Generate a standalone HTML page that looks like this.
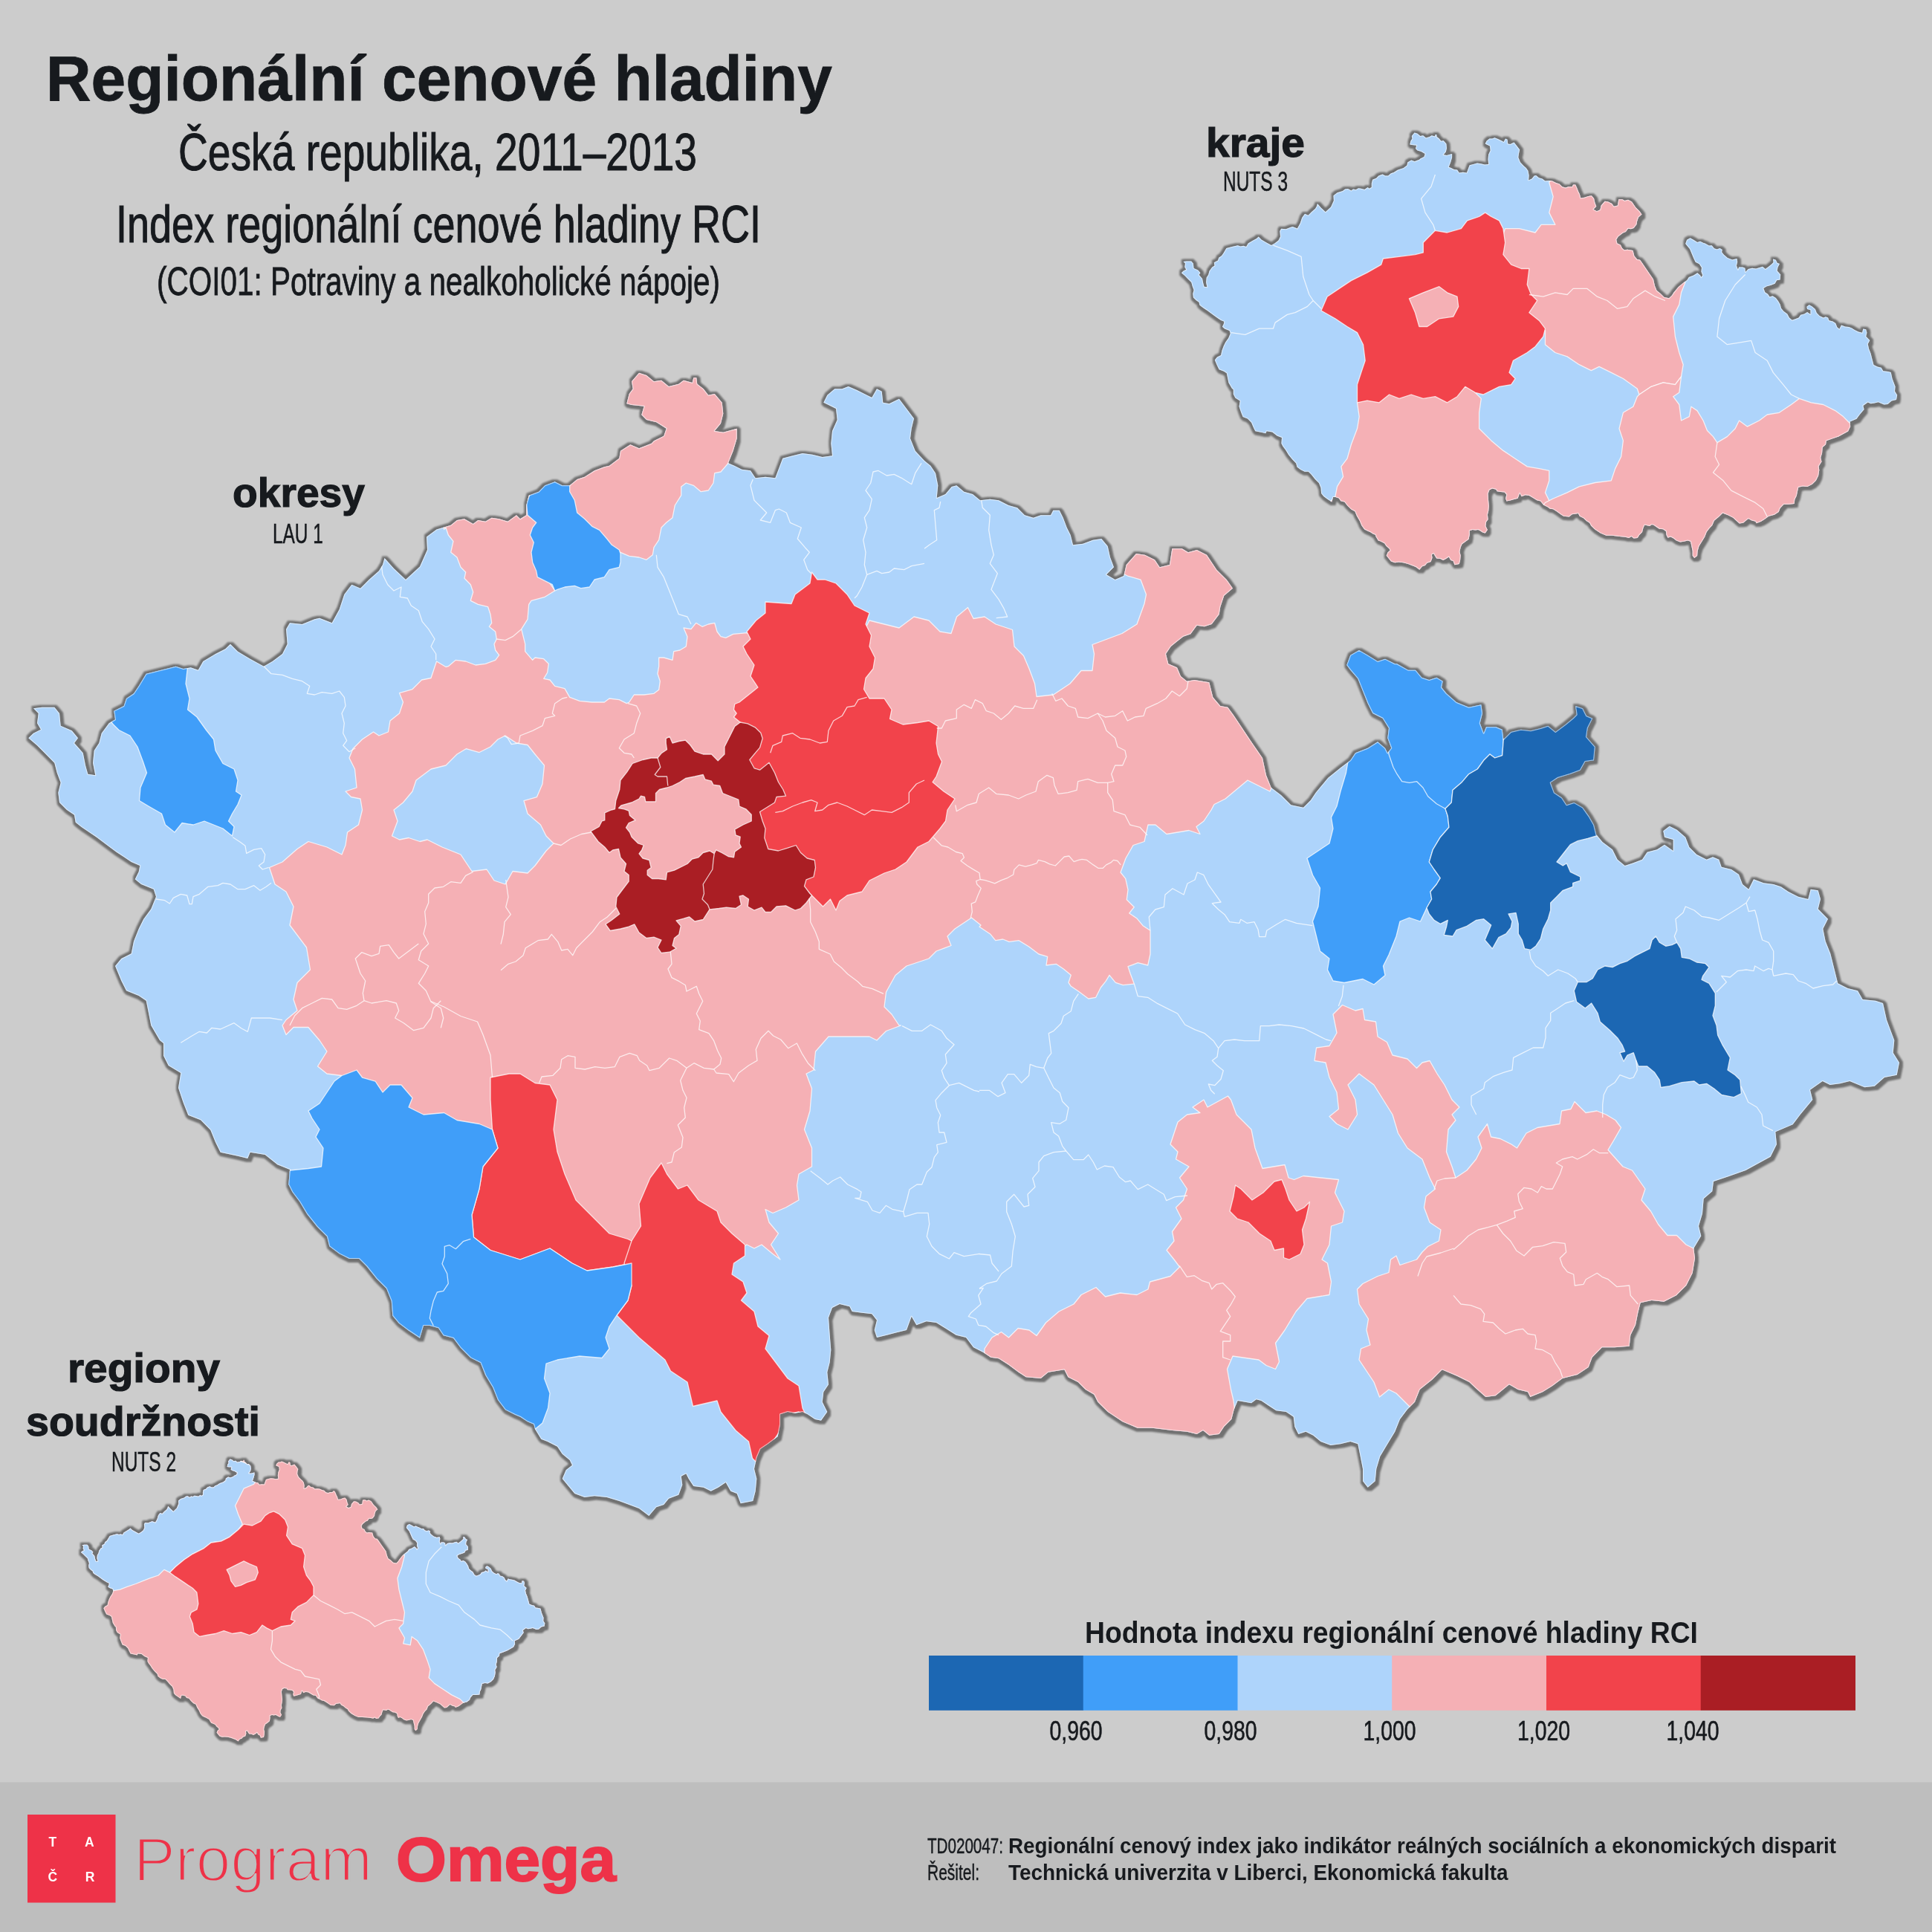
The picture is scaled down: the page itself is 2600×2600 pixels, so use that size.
<!DOCTYPE html>
<html><head><meta charset="utf-8"><style>
html,body{margin:0;padding:0}body{width:2600px;height:2600px;background:#cccccc;position:relative;overflow:hidden;font-family:"Liberation Sans",sans-serif}
</style></head><body><svg width="2600" height="2600" viewBox="0 0 2600 2600" style="position:absolute;left:0;top:0" font-family="Liberation Sans, sans-serif"><g opacity="0.999"><rect x="0" y="2398.5" width="2600" height="201.5" fill="#bebebe"/><rect x="37" y="2442" width="118.5" height="118.5" fill="#ee3248"/><text x="70.8" y="2485.0" font-size="17.5" font-weight="bold" fill="#fff" text-anchor="middle">T</text><text x="120.4" y="2485.0" font-size="17.5" font-weight="bold" fill="#fff" text-anchor="middle">A</text><text x="70.8" y="2532.0" font-size="17.5" font-weight="bold" fill="#fff" text-anchor="middle">Č</text><text x="121" y="2532.0" font-size="17.5" font-weight="bold" fill="#fff" text-anchor="middle">R</text><text x="180" y="2531.4" font-size="84" font-weight="normal" fill="#ee3248" textLength="321" lengthAdjust="spacingAndGlyphs" stroke="#bebebe" stroke-width="2.8">Program</text><text x="533" y="2531.4" font-size="84" font-weight="bold" fill="#ee3248" textLength="296" lengthAdjust="spacingAndGlyphs" stroke="#ee3248" stroke-width="2">Omega</text></g>
<defs>
<path id="cz" d="M215,1400 203.3,1380 200,1363.3 196.7,1346.7 186.7,1340 170,1333.3 163.3,1320 155,1300 163.3,1290 176.7,1283.3 180,1266.7 186.7,1250 193.3,1236.7 203.3,1223.3 210,1206.7 206.7,1196.7 190,1190 181.7,1183.3 186.7,1173.3 188.3,1165 176.7,1160 166.7,1153.3 156.7,1146.7 143.3,1136.7 130,1126.7 120,1120 110,1113.3 101.7,1106.7 100,1096.7 90,1090 80,1080 78.3,1066.7 81.7,1053.3 76.7,1040 73.3,1026.7 60,1013.3 50,1003.3 38.3,993.3 45,986.7 55,981.7 50,973.3 51.7,960 45,953.3 56.7,951.7 73.3,951.7 80,960 81.7,976.7 96.7,983.3 105,993.3 100,1000 111.7,1013.3 115,1030 118.3,1041.7 128.3,1043.3 125,1026.7 126.7,1010 133.3,1000 136.7,986.7 146.7,973.3 155,968.3 153.3,956.7 166.7,950 170,940 180,933.3 186.7,923.3 196.7,906.7 216.7,901.7 236.7,896.7 246.7,900 256.7,898.3 266.7,901.7 273.3,890 290,880 303.3,873.3 310,866.7 320,876.7 336.7,886.7 355,896.7 366.7,890 380,880 386.7,866.7 385,846.7 390,838.3 406.7,840 423.3,833.3 430,831.7 446.7,838.3 456.7,820 463.3,800 473.3,786.7 485,791.7 496.7,780 510,768.3 515,760 517.5,751 530,765 546,780 565,762.5 575,740 574,722.5 587.5,712.5 606.7,706.7 615,700 625,698.3 636.7,705 643.3,700 653.3,701.7 661.7,696.7 671.7,698.3 683.3,701.7 695,693.3 700,698.3 708.3,693.3 708.3,680 711.7,666.7 725,661.7 733.3,653.3 746.7,648.3 756.7,653.3 766.7,653.3 776.7,645 786.7,641.7 800,633.3 813.3,628.3 820,626.7 833.3,616.7 835,606.7 848.3,598.3 860,603.3 876.7,596.7 880,593.3 893.3,586.7 896.7,576.7 883.3,568.3 870,565 863.3,558.3 866.7,546.7 850,545 843.3,543.3 846.7,530 851.7,523.3 850,513.3 860,501.7 870,505 880,513.3 890,511.7 900,520 913.3,516.7 920,511.7 931.7,515 933.3,508.3 937.3,508.3 938.3,516.7 946.7,523.3 953.3,531.7 961.7,530 971.7,541.7 973.3,556.7 970,570 961.7,580 973.3,581.7 991.7,576.7 991.7,590 986.7,606.7 980,623.3 988.3,626.7 998.3,631.7 1010,633.3 1016.7,643.3 1030,641.7 1043.3,643.3 1048.3,630 1053.3,616.7 1066.7,613.3 1080,610 1093.3,611.7 1106.7,615 1120,613.3 1118.3,596.7 1120,580 1126.7,565 1125,550 1115,545 1108.3,541.7 1113.3,531.7 1123.3,523.3 1133.3,523.3 1141.7,520 1153.3,525 1166.7,531.7 1173.3,535 1180,523.3 1186.7,526.7 1188.3,541.7 1196.7,543.3 1210,536.7 1220,550 1230,563.3 1226.7,576.7 1225,590 1231.7,606.7 1244,620 1252.3,626.7 1259,636.7 1262.3,653.3 1260.7,670 1272.3,665 1280.7,655 1287.3,653.3 1297.3,661.7 1309,665 1319,673.3 1332.3,671.7 1344,673.3 1357.3,680 1369,683.3 1379,693.3 1390.7,696.7 1400.7,693.3 1414,693.3 1417.3,686.7 1425.7,686.7 1430.7,696.7 1435.7,710 1440.7,720 1444,733.3 1457.3,731.7 1470.7,726.7 1482.3,725 1490.7,735 1494,750 1499,763.3 1489,773.3 1500.7,780 1512.3,775 1515.7,760 1529,745 1540.7,746.7 1554,753.3 1560.7,763.3 1574,760 1577.3,738.3 1590.7,738.3 1599,743.3 1610.7,740 1624,746.7 1637.3,766.7 1650.7,780 1659,791.7 1647.3,801.7 1642.3,816.7 1640.7,826.7 1630.7,840 1620.7,843.3 1610.7,841.7 1602.3,853.3 1592.3,856.7 1584,863.3 1575.7,870 1569,880 1572.3,893.3 1584,898.3 1589,910 1597.3,916.7 1607.3,915 1627.3,918.3 1632.3,938.3 1642.3,950 1652.3,951.7 1660.7,963.3 1674,983.3 1684,998.3 1699,1020 1704,1043.3 1710.7,1060 1724,1070 1737.3,1083.3 1754,1086.7 1764,1076.7 1770.7,1066.7 1787.3,1046.7 1804,1033.3 1817.3,1023.3 1824,1013.3 1840.7,1006.7 1854,998.3 1864,1006.7 1867.3,1013.3 1872.3,1006.7 1867.3,993.3 1869,980 1860.7,966.7 1847.3,960 1840.7,946.7 1834,930 1827.3,913.3 1817.3,901.7 1812.3,895 1817.3,881.7 1829,875 1840.7,881.7 1854,890 1864,886.7 1877.3,893.3 1880,893.3 1895,901.7 1905,901.7 1913.3,911.7 1923.3,915 1933.3,911.7 1941.7,916.7 1940,925 1946.7,933.3 1960,945 1976.7,951.7 1993.3,948.3 1995,960 1991.7,973.3 1996.7,986.7 2000,978.3 2013.3,978.3 2021.7,981.7 2023.3,995 2033.3,985 2046.7,981.7 2060,983.3 2073.3,980 2083.3,976.7 2093.3,985 2106.7,975 2116.7,966.7 2121.7,961.7 2120,950 2130,953.3 2135,963.3 2143.3,966.7 2136.7,980 2135,991.7 2146.7,1005 2145,1023.3 2133.3,1025 2126.7,1036.7 2113.3,1041.7 2096.7,1046.7 2086.7,1053.3 2091.7,1066.7 2101.7,1073.3 2108.3,1083.3 2118.3,1080 2130,1086.7 2138.3,1098.3 2145,1110 2148.3,1123.3 2156.7,1133.3 2170,1143.3 2176.7,1156.7 2186.7,1165 2196.7,1161.7 2210,1156.7 2216.7,1146.7 2230,1143.3 2240,1136.7 2251.7,1145 2251.7,1130 2240,1126.7 2238.3,1118.3 2246.7,1111.7 2256.7,1116.7 2268.3,1126.7 2273.3,1140 2283.3,1150 2296.7,1156.7 2305,1153.3 2313.3,1156.7 2316.7,1166.7 2330,1170 2340,1176.7 2345,1190 2353.3,1196.7 2360,1183.3 2373.3,1188.3 2386.7,1190 2396.7,1193.3 2406.7,1200 2420,1206.7 2433.3,1210 2436.7,1196.7 2446.7,1198.3 2450,1210 2446.7,1223.3 2460,1236.7 2453.3,1250 2456.7,1266.7 2463.3,1283.3 2468.3,1303.3 2473.3,1323.3 2486.7,1330 2500,1333.3 2506.7,1345 2524,1346.7 2534,1350 2539,1372.5 2549.3,1400 2547.7,1416.7 2556,1430 2552.7,1446.7 2536,1450 2522.7,1461.7 2509.3,1463.3 2489.3,1455 2476,1458.3 2462.7,1460 2452.7,1455 2436,1466.7 2439.3,1480 2422.7,1500 2412.7,1513.3 2389.3,1523.3 2391,1540 2382.7,1556.7 2349.3,1575 2326,1583.3 2306,1590 2304.3,1603.3 2292.7,1613.3 2291,1633.3 2286,1650 2289.3,1663.3 2279.3,1680 2281,1693.3 2277.7,1713.3 2269.3,1730 2256,1743.3 2239.3,1751.7 2222.7,1750 2207.7,1753.3 2204.3,1766.7 2201,1783.3 2194.3,1796.7 2192.7,1811.7 2172.7,1813.3 2156,1813.3 2142.7,1826.7 2137.7,1840 2122.7,1850 2102.7,1855 2089.3,1865 2076,1873.3 2059.3,1880 2056,1873.3 2042.7,1870 2031,1863.3 2012.7,1878.3 1999.3,1880 1986,1868.3 1977.3,1860 1960.7,1851.7 1940.7,1843.3 1927.3,1856.7 1910.7,1870 1904,1886.7 1894,1896.7 1884,1910 1877.3,1926.7 1867.3,1943.3 1857.3,1960 1852.3,1976.7 1850.7,1993.3 1840.7,2001.7 1834,1993.3 1834,1976.7 1830.7,1960 1827.3,1943.3 1817.3,1940 1804,1943.3 1790.7,1945 1777.3,1940 1767.3,1931.7 1757.3,1926.7 1747.3,1930 1742.3,1920 1740.7,1906.7 1730.7,1900 1717.3,1898.3 1707.3,1891.7 1697.3,1885 1690.7,1883.3 1684,1888.3 1665.7,1885 1660.7,1896.7 1657.3,1910 1647.3,1920 1640.7,1930 1627.3,1931.7 1619,1925 1610.7,1930 1597.3,1926.7 1577.3,1925 1550.7,1921.7 1530.7,1921.7 1510.7,1913.3 1490.7,1900 1477.3,1886.7 1472.3,1876.7 1460.7,1870 1450.7,1860 1437.3,1853.3 1432.3,1843.3 1410.7,1846.7 1400.7,1855 1380.7,1853.3 1370.7,1846.7 1357.3,1836.7 1344,1828.3 1333.3,1826.7 1323.3,1820 1310,1813.3 1300,1800 1286.7,1796.7 1273.3,1788.3 1260,1780 1246.7,1778.3 1233.3,1783.3 1226.7,1771.7 1220,1790 1206.7,1793.3 1193.3,1796.7 1180,1800 1176.7,1790 1180,1776.7 1173.3,1768.3 1160,1766.7 1146.7,1765 1143.3,1758.3 1130,1755 1120,1760 1115,1773.3 1116.7,1796.7 1118.3,1816.7 1116.7,1833.3 1113.3,1846.7 1115,1863.3 1108.3,1873.3 1106.7,1886.7 1113.3,1900 1105,1911.7 1096.7,1910 1086.7,1903.3 1080,1900 1070,1901.7 1060,1900 1050,1903.3 1050,1916.7 1046.7,1933.3 1033.3,1943.3 1023.3,1950 1018.3,1961.7 1015,1976.7 1018.3,1990 1016.7,2006.7 1013.3,2020 996.7,2023.3 991.7,2010 983.3,2006.7 976.7,1995 966.7,2001.7 956.7,2006.7 946.7,2001.7 933.3,2000 926.7,1990 923.3,1983.3 916.7,1986.7 918.3,1998.3 913.3,2011.7 900,2016.7 893.3,2025 883.3,2028.3 873.3,2040 860,2030 846.7,2025 833.3,2020 816.7,2015 800,2013.3 786.7,2015 773.3,2010 765,2000 756.7,1990 761.7,1978.3 770,1971.7 766.7,1965 756.7,1956.7 750,1946.7 736.7,1940 728.3,1936.7 720,1923.3 718.3,1916.7 710,1913.3 700,1906.7 693.3,1904 680,1897.3 670,1884 663.3,1867.3 653.3,1850.7 646.7,1834 633.3,1827.3 620,1814 610,1800.7 596.7,1797.3 590,1787.3 578.3,1784 570,1784 565,1800.7 550,1790.7 536.7,1780.7 528.3,1770.7 526.7,1750.7 520,1734 506.7,1720.7 493.3,1704 483.3,1694 470,1694 456.7,1687.3 443.3,1677.3 440,1664 426.7,1650.7 413.3,1634 403.3,1617.3 393.3,1604 388.3,1594 390,1574 373.3,1567.3 356.7,1554 336.7,1550.7 333.3,1559 320,1555.7 296.7,1550.7 290,1537.3 283.3,1520.7 270,1507.3 253.3,1500.7 246.7,1484 240,1464 243.3,1444 226.7,1434 220,1420.7 220,1404Z"/>
<clipPath id="czc"><use href="#cz"/></clipPath>
<filter id="sh" x="-5%" y="-5%" width="110%" height="110%" color-interpolation-filters="sRGB"><feMorphology in="SourceAlpha" operator="dilate" radius="2.5" result="d"/><feOffset in="d" dx="1.6" dy="1.6" result="d2"/><feMerge result="u"><feMergeNode in="d"/><feMergeNode in="d2"/></feMerge><feGaussianBlur in="u" stdDeviation="1.2" result="g"/><feComponentTransfer in="g" result="g2"><feFuncA type="linear" slope="0.45"/></feComponentTransfer><feMerge><feMergeNode in="g2"/><feMergeNode in="SourceGraphic"/></feMerge></filter>
</defs>
<use href="#cz" fill="#aed4fb" filter="url(#sh)"/>
<g clip-path="url(#czc)">
<path d="M597.5,712.5 595,685 720,640 750,700 740,785 746.7,795 733.3,803.3 715,808.3 711.7,813.3 710,833.3 701.7,846.7 706.7,866.7 706.7,876.7 716.7,888.3 720,885 731.7,886.7 738.3,893.3 736.7,905 731.7,913.3 740,915 746.7,923.3 760,926.7 766.7,938.3 780,943.3 796.7,945 813.3,945 820,940 833.3,941.7 843.3,946.7 846.7,945 853.3,935 866.7,935 880,933.3 886.7,928.3 888.3,916.7 885,906.7 886.7,896.7 886.7,885 893.3,885 905,888.3 906.7,876.7 915,875 923.3,870 925,856.7 920,845 930,846.7 936.7,838.3 945,843.3 953.3,840 961.7,838.3 965,850 970,856.7 976.7,858.3 986.7,853.3 1005,851.7 1020,855 1165,845 1170,835 1190,840 1210,845 1230,830 1250,835 1265,850 1280,852.5 1287.5,830 1302.5,817.5 1310,832.5 1325,830 1340,840 1362.5,847.5 1365,870 1377.5,882.5 1385,900 1392.5,920 1395,937.5 1417.5,935 1440,920 1455,902.5 1470,902.5 1472.5,880 1470,867.5 1490,860 1510,852.5 1530,840 1540,812.5 1542.5,800 1535,780 1517.5,775 1512.5,772.5 1510,740 1570,720 1680,730 1690,790 1620,880 1670,935 1720,1005 1720,1040 1709,1065 1679,1050 1664,1062.5 1649,1075 1634,1082.5 1630,1090 1620,1105 1610,1112.5 1615,1122.5 1600,1117.5 1585,1120 1570,1122.5 1555,1110 1545,1110 1540,1132.5 1525,1137.5 1515,1155 1508,1174 1514.7,1182.3 1518,1197.3 1516.3,1210.7 1526.3,1220.7 1519.7,1229 1529.7,1235.7 1538,1245.7 1548,1252.3 1548,1270.7 1548,1284 1544.7,1299 1531.3,1295.7 1518,1300.7 1521.3,1310.7 1526.3,1324 1511.3,1325.7 1501.3,1322.3 1493,1312.3 1488,1320.7 1481.3,1329 1474.7,1342.3 1464.7,1344 1451.3,1334 1441.3,1327.3 1438,1322.3 1441.3,1312.3 1431.3,1304 1421.3,1297.3 1408,1299 1409.7,1287.3 1398,1284 1384.7,1274 1371.3,1265.7 1358,1267.3 1349.7,1264 1339.7,1265.7 1333,1257.3 1318,1247.3 1320,1245 1307.5,1235 1285,1250 1275,1260 1280,1272.5 1260,1280 1250,1290 1220,1300 1205,1312.5 1192.5,1335 1190,1355 1200,1365 1210,1380 1212.5,1380 1192.5,1387.5 1180,1400 1170,1395 1115,1395 1097.5,1415 1095,1440 1085,1445 1092.5,1465 1090,1495 1082.5,1520 1092.5,1545 1092.5,1570 1075,1580 1072.5,1595 1075,1615 1057.5,1625 1040,1632.5 1030,1627.5 1035,1645 1047.5,1660 1037.5,1675 1050,1695 1040,1687.5 1025,1675 1015,1680 1005,1675 970,1700 860,1700 810,1680 725,1665 665,1600 625,1550 500,1480 460,1447.5 440,1445 427.5,1435 440,1415 430,1400 415,1382.5 395,1382.5 385,1392.5 380,1380 385,1372.5 400,1360 395,1345 400,1322.5 417.5,1305 412.5,1275 390,1245 395,1220 385,1200 370,1190 362.5,1167.5 380,1160 400,1142.5 415,1132.5 440,1140 460,1150 465,1137.5 467.5,1120 482.5,1110 487.5,1090 485,1075 472.5,1072.5 465,1065 480,1060 477.5,1035 470,1020 475,1007.5 487.5,995 502.5,985 510,990 522.5,985 525,970 537.5,960 542.5,945 537.5,932.5 555,927.5 567.5,915 580,912.5 587.5,890 600,897.5 603.3,896.7 613.3,888.3 626.7,890 640,895 653.3,893.3 666.7,888.3 671.7,881.7 666.7,875 665,866.7 668.3,860 666.7,850 658.3,843.3 661.7,838.3 660,826.7 656.7,816.7 643.3,813.3 633.3,808.3 636.7,796.7 633.3,786.7 625,778.3 626.7,770 620,763.3 615,750 606.7,743.3 610,728.3 603.3,720 600,710Z" fill="#f5b0b5" stroke="#fff" stroke-opacity="0.75" stroke-width="1.3" stroke-linejoin="round"/>
<path d="M680,990 695,1000 710,1002.5 720,1015 732.5,1030 730,1055 722.5,1072.5 705,1077.5 710,1095 727.5,1110 735,1125 745,1135 735,1145 720,1165 710,1175 690,1172.5 680,1190 665,1185 655,1170 635,1172.5 620,1150 595,1140 575,1130 565,1132.5 550,1127.5 537.5,1130 527.5,1125 535,1105 530,1090 542.5,1080 555,1065 560,1050 580,1035 600,1030 615,1015 627.5,1007.5 645,1012.5 660,1005 670,995Z" fill="#aed4fb" stroke="#fff" stroke-opacity="0.75" stroke-width="1.3" stroke-linejoin="round"/>
<path d="M980,623.3 970,635 961.7,636.7 960,650 953.3,660 943.3,661.7 933.3,653.3 923.3,650 916.7,655 916.7,666.7 908.3,680 905,696.7 896.7,703.3 890,710 886.7,726.7 880,736.7 878.3,746.7 870,753.3 860,750 846.7,748.3 835,743.3 800,733.3 760,666.7 756.7,613.3 833.3,580 833.3,486.7 1016.7,486.7 1016.7,613.3Z" fill="#f5b0b5" stroke="#fff" stroke-opacity="0.75" stroke-width="1.3" stroke-linejoin="round"/>
<path d="M1325,1815 1335,1800 1347.5,1792.5 1357.5,1800 1370,1787.5 1385,1790 1395,1797.5 1407.5,1780 1425,1765 1445,1755 1455,1742.5 1475,1732.5 1487.5,1745 1507.5,1740 1530,1742.5 1545,1735 1547.5,1725 1575,1717.5 1587.5,1705 1580,1695 1570,1682.5 1580,1670 1577.5,1657.5 1590,1640 1582.5,1625 1592.5,1615 1597.5,1600 1587.5,1585 1600,1570 1582.5,1560 1585,1550 1575,1540 1580,1525 1585,1510 1597.5,1500 1615,1497.5 1605,1490 1620,1480 1625,1490 1652.5,1475 1656.5,1480 1664,1500 1684,1520 1689,1545 1699,1572.5 1729,1567.5 1734,1585 1741.5,1587.5 1754,1582.5 1801.5,1587.5 1796.5,1605 1809,1630 1806.5,1645 1791.5,1650 1789,1675 1779,1695 1786.5,1700 1791.5,1725 1789,1742.5 1759,1747.5 1744,1765 1729,1790 1716.5,1807.5 1721.5,1832.5 1716.5,1842.5 1704,1837.5 1694,1830 1659,1825 1651.5,1842.5 1656.5,1870 1660,1885 1670,1960 1320,1960Z" fill="#f5b0b5" stroke="#fff" stroke-opacity="0.75" stroke-width="1.3" stroke-linejoin="round"/>
<path d="M1794,1365 1806.5,1352.5 1824,1360 1834,1357.5 1836.5,1372.5 1851.5,1375 1854,1395 1866.5,1402.5 1874,1420 1894,1425 1906.5,1437.5 1914,1430 1924,1427.5 1934,1445 1944,1460 1954,1480 1964,1490 1954,1500 1959,1507.5 1949,1520 1946.5,1550 1954,1570 1959,1585 1974,1575 1986.5,1560 1994,1545 1989,1530 2001.5,1512.5 2006.5,1530 2019,1532.5 2034,1540 2041.5,1545 2054,1525 2069,1517.5 2084,1515 2099,1512.5 2101.5,1495 2114,1492.5 2119,1482.5 2134,1497.5 2149,1495 2161.5,1500 2174,1507.5 2181.5,1517.5 2171.5,1535 2164,1547.5 2184,1570 2196.5,1575 2214,1600 2209,1615 2221.5,1630 2231.5,1647.5 2244,1662.5 2256.5,1662.5 2269,1675 2279,1680 2309,1675 2309,1760 2234,1790 2209,1840 2134,1875 2059,1910 1984,1900 1934,1870 1904,1900 1896.5,1892.5 1879,1875 1869,1870 1856.5,1880 1849,1860 1839,1845 1829,1830 1831.5,1815 1844,1810 1839,1790 1841.5,1775 1829,1755 1826.5,1735 1834,1727.5 1854,1717.5 1869,1712.5 1871.5,1695 1879,1690 1884,1702.5 1906.5,1695 1914,1685 1921.5,1677.5 1936.5,1670 1939,1655 1924,1645 1916.5,1625 1919,1610 1931.5,1600 1924,1585 1914,1560 1894,1545 1881.5,1525 1874,1500 1861.5,1480 1849,1460 1829,1445 1814,1460 1824,1480 1826.5,1500 1814,1520 1799,1512.5 1789,1502.5 1801.5,1492.5 1799,1470 1789,1450 1784,1430 1769,1427.5 1771.5,1410 1789,1407.5 1799,1390Z" fill="#f5b0b5" stroke="#fff" stroke-opacity="0.75" stroke-width="1.3" stroke-linejoin="round"/>
<path d="M1092.5,770 1100,780 1110,780 1125,785 1140,800 1150,815 1170,825 1165,840 1172.5,855 1170,870 1177.5,885 1175,900 1165,912.5 1162.5,927.5 1170,940 1190,940 1200,955 1197.5,967.5 1215,975 1235,972.5 1250,970 1262.5,977.5 1260,1000 1262.5,1015 1267.5,1025 1260,1045 1255,1052.5 1270,1065 1285,1075 1275,1090 1272.5,1105 1265,1115 1250,1132.5 1235,1140 1220,1160 1205,1170 1190,1175 1170,1185 1160,1200 1140,1205 1130,1212.5 1125,1225 1117.5,1210 1107.5,1220 1095,1207.5 1082.5,1195 1090,1204.5 1060,1190 1015,1140 1017.5,1092.5 1010,1065 1000,1022.5 1005,990 996.2,972 987.5,965 991.2,960 987.5,955 988.8,947.5 995,945 1020,925 1010,910 1015,895 1005,880 1000,870 1010,860 1005,850 1017.5,835 1030,825 1030,810 1065,812.5 1070,800 1090,785Z" fill="#f2434b" stroke="#fff" stroke-opacity="0.75" stroke-width="1.3" stroke-linejoin="round"/>
<path d="M660,1450 685,1445 700,1445 720,1457.5 740,1460 750,1480 745,1520 750,1550 760,1580 775,1615 800,1640 820,1660 845,1667.5 850,1670 850,1700 825,1705 790,1710 770,1700 740,1680 700,1695 660,1682.5 637.5,1665 635,1635 645,1600 650,1570 670,1545 662.5,1520 660,1480Z" fill="#f2434b" stroke="#fff" stroke-opacity="0.75" stroke-width="1.3" stroke-linejoin="round"/>
<path d="M890,1565 875,1585 860,1620 862.5,1650 850,1670 840,1700 850,1730 845,1750 830,1770 845,1785 860,1800 895,1830 902.5,1845 925,1860 932.5,1892.5 965,1885 970,1900 990,1925 1007.5,1940 1012.5,1962.5 1030,1980 1040,1940 1050,1925 1052.5,1905 1075,1900 1085,1905 1080,1895 1075,1865 1060,1855 1045,1835 1030,1815 1035,1797.5 1020,1785 1015,1765 997.5,1750 1005,1740 1000,1725 985,1715 987.5,1700 1002.5,1690 1002.5,1675 985,1660 970,1645 965,1630 940,1615 925,1595 912.5,1600 897.5,1580Z" fill="#f2434b" stroke="#fff" stroke-opacity="0.75" stroke-width="1.3" stroke-linejoin="round"/>
<path d="M1662.5,1595 1670,1600 1685,1615 1700,1605 1715,1590 1725,1587.5 1730,1600 1735,1615 1745,1630 1755,1625 1762.5,1617.5 1757.5,1640 1752.5,1655 1755,1675 1750,1687.5 1735,1695 1727.5,1692.5 1727.5,1680 1715,1682.5 1710,1670 1695,1660 1680,1645 1665,1640 1655,1630 1660,1610Z" fill="#f2434b" stroke="#fff" stroke-opacity="0.75" stroke-width="1.3" stroke-linejoin="round"/>
<path d="M896.2,993.8 901.2,991.2 905,1000 913.8,997.5 922.5,996.2 928.8,1002.5 935,1011.2 946.2,1015 957.5,1015 966.2,1023.8 975,1015 975,1005 983.8,987.5 988.8,977.5 996.2,972 1006.2,973.8 1016.2,978.8 1023.8,986.2 1026.2,993.8 1022.5,1006.2 1015,1015 1008.8,1022.5 1015,1033.8 1022.5,1036.2 1035,1026.2 1042.5,1040 1047.5,1052.5 1053.8,1062.5 1057.5,1071.2 1045,1072.5 1042.5,1080 1032.5,1086.2 1022.5,1092.5 1026.2,1105 1030,1115 1028.8,1127.5 1033.8,1142.5 1047.5,1145 1060,1141.2 1071.2,1137.5 1077.5,1147.5 1086.2,1155 1096.2,1157.5 1097.5,1167.5 1095,1180 1085,1183.8 1082.5,1192.5 1090,1202.5 1092.5,1205 1085,1215 1077.5,1222.5 1070,1225 1057.5,1218.8 1045,1220 1037.5,1227.5 1030,1227.5 1025,1221.2 1015,1225 1006.2,1220 1007.5,1210 1000,1205 995,1206.2 997.5,1217.5 990,1222.5 977.5,1221.2 967.5,1222.5 955,1223.8 946.2,1237.5 935,1240 927.5,1233.8 920,1236.2 910,1238.8 916.2,1246.2 913.8,1257.5 907.5,1262.5 905,1272.5 910,1276.2 901.2,1281.2 890,1282.5 885,1275 890,1265 880,1261.2 870,1262.5 860,1255 853.8,1243.8 845,1247.5 835,1250 821.2,1252.5 815,1243.8 822.5,1238.8 833.8,1230 828.8,1220 830,1207.5 837.5,1197.5 846.2,1186.2 846.2,1177.5 840,1172.5 842.5,1162.5 835,1153.8 832.5,1142.5 825,1143.8 820,1147.5 813.8,1140 805,1132.5 795,1118.8 806.2,1112.5 810,1105 813.8,1103.8 813.8,1093.8 822.5,1090 827.5,1088.8 828.8,1077.5 833.8,1062.5 835,1050 843.8,1038.8 851.2,1027.5 865,1022.5 876.2,1020 885,1020 890,1013.8 897.5,1008.8 896.2,1000Z" fill="#aa1e24" stroke="#fff" stroke-opacity="0.75" stroke-width="1.3" stroke-linejoin="round"/>
<path d="M946.2,1042.5 948.8,1048.8 957.5,1051.2 960,1056.2 968.8,1057.5 972.5,1067.5 985,1072.5 993.8,1076.2 995,1085 1003.8,1088.8 1011.2,1096.2 1011.2,1105 1000,1110 988.8,1116.2 990,1123.8 996.2,1126.2 995,1135 997.5,1140 988.8,1146.2 987.5,1153.8 980,1152.5 971.2,1147.5 963.8,1143.8 961.2,1148.8 955,1145 946.2,1147.5 940,1153.8 931.2,1156.2 925,1162.5 915,1167.5 907.5,1171.2 897.5,1173.8 896.2,1183.8 886.2,1182.5 877.5,1182.5 871.2,1177.5 871.2,1171.2 876.2,1167.5 873.8,1157.5 865,1155 860,1148.8 863.8,1143.8 866.2,1137.5 858.8,1135 850,1126.2 847.5,1120 842.5,1113.8 846.2,1107.5 855,1103.8 847.5,1097.5 846.2,1091.2 840,1088.8 832.5,1087.5 836.2,1083.8 850,1080 860,1075 862.5,1071.2 867.5,1072.5 868.8,1078.8 882.5,1078.8 882.5,1067.5 887.5,1062.5 897.5,1060 905,1057.5 915,1052.5 922.5,1047.5 935,1045Z" fill="#f5b0b5" stroke="#fff" stroke-opacity="0.75" stroke-width="1.3" stroke-linejoin="round"/>
<path d="M746.7,648.3 743.3,626.7 773.3,636.7 766.7,653.3 766.7,661.7 773.3,673.3 776.7,690 786.7,698.3 796.7,708.3 806.7,713.3 816.7,725 823.3,733.3 833.3,740 835,745 835,756.7 833.3,763.3 820,766.7 813.3,776.7 800,780 793.3,790 781.7,791.7 773.3,788.3 760,790 750,793.3 746.7,795 743.3,786.7 733.3,781.7 723.3,776.7 721.7,768.3 716.7,756.7 715,743.3 718.3,730 713.3,720 716.7,710 721.7,703.3 710,693.3 708.3,676.7 713.3,665 700,660 706.7,640 733.3,633.3Z" fill="#409ef9" stroke="#fff" stroke-opacity="0.75" stroke-width="1.3" stroke-linejoin="round"/>
<path d="M252.5,897.5 250,920 255,940 252.5,955 265,965 277.5,982.5 287.5,995 290,1010 300,1027.5 315,1035 320,1050 317.5,1065 325,1070 320,1082.5 312.5,1095 307.5,1105 315,1112.5 312.5,1125 300,1115 287.5,1110 275,1105 260,1110 245,1107.5 235,1120 222.5,1110 217.5,1095 200,1085 187.5,1077.5 189,1060 197.5,1040 192.5,1025 185,1005 175,990 160,982.5 152.5,975 140,960 165,920 200,890 245,880Z" fill="#409ef9" stroke="#fff" stroke-opacity="0.75" stroke-width="1.3" stroke-linejoin="round"/>
<path d="M460,1447.5 480,1440 487.5,1450 505,1455 515,1470 525,1460 540,1460 555,1477.5 550,1490 570,1500 597.5,1497.5 615,1507.5 645,1512.5 662.5,1520 670,1545 650,1570 645,1600 635,1635 637.5,1665 660,1682.5 700,1695 740,1680 770,1700 790,1710 825,1705 850,1700 850,1730 845,1750 830,1770 820,1785 815,1800 820,1815 810,1827.5 780,1825 750,1830 735,1835 732.5,1855 740,1875 737.5,1895 730,1915 700,1940 550,1825 380,1600 390,1575 415,1572.5 432.5,1570 435,1545 425,1530 430,1520 420,1505 415,1495 430,1485 440,1470 450,1455Z" fill="#409ef9" stroke="#fff" stroke-opacity="0.75" stroke-width="1.3" stroke-linejoin="round"/>
<path d="M2023.3,995 2021.7,1016.7 2011.7,1020 2005,1015 1996.7,1023.3 1988.3,1035 1976.7,1041.7 1966.7,1053.3 1955,1063.3 1953.3,1080 1945,1088.3 1948.3,1098.3 1950,1113.3 1938.3,1126.7 1928.3,1143.3 1923.3,1160 1930,1170 1938.3,1181.7 1933.3,1190 1925,1200 1926.7,1210 1920,1221.7 1911.5,1240 1896.5,1235 1884,1240 1879,1260 1869,1285 1861.5,1300 1864,1312.5 1849,1325 1834,1317.5 1809,1322.5 1794,1320 1786.5,1305 1789,1290 1776.5,1280 1771.5,1260 1766.5,1240 1774,1220 1776.5,1195 1766.5,1177.5 1759,1155 1774,1145 1789,1135 1794,1115 1791.5,1100 1799,1085 1804,1065 1811.5,1040 1814,1025 1804,1010 1784,890 1824,860 1984,915 2034,965Z" fill="#409ef9" stroke="#fff" stroke-opacity="0.75" stroke-width="1.3" stroke-linejoin="round"/>
<path d="M2023.3,995 2026.7,973.3 2113.3,946.7 2133.3,936.7 2166.7,970 2156.7,1033.3 2113.3,1060 2143.3,1086.7 2166.7,1123.3 2148.3,1125 2136.7,1128.3 2123.3,1131.7 2113.3,1136.7 2106.7,1145 2095,1160 2103.3,1165 2108.3,1161.7 2113.3,1173.3 2126.7,1180 2126.7,1185 2116.7,1188.3 2116.7,1193.3 2103.3,1198.3 2095,1206.7 2086.7,1215 2086.7,1225 2083.3,1236.7 2076.7,1250 2073.3,1263.3 2066.7,1273.3 2060,1278.3 2051.7,1276.7 2048.3,1265 2043.3,1256.7 2043.3,1243.3 2040,1228.3 2030,1230 2035,1240 2033.3,1248.3 2026.7,1256.7 2016.7,1261.7 2008.3,1276.7 1998.3,1265 2003.3,1253.3 2006.7,1245 1996.7,1236.7 1986.7,1238.3 1973.3,1246.7 1960,1251.7 1955,1260 1943.3,1258.3 1946.7,1246.7 1948.3,1238.3 1938.3,1243.3 1930,1238.3 1923.3,1230 1920,1221.7 1926.7,1210 1925,1200 1933.3,1190 1938.3,1181.7 1930,1170 1923.3,1160 1928.3,1143.3 1938.3,1126.7 1950,1113.3 1948.3,1098.3 1945,1088.3 1953.3,1080 1955,1063.3 1966.7,1053.3 1976.7,1041.7 1988.3,1035 1996.7,1023.3 2005,1015 2011.7,1020 2021.7,1016.7Z" fill="#1c67b3" stroke="#fff" stroke-opacity="0.75" stroke-width="1.3" stroke-linejoin="round"/>
<path d="M2228.3,1260 2233.3,1268.3 2241.7,1273.3 2250,1271.7 2256.7,1268.3 2261.7,1276.7 2263.3,1288.3 2273.3,1290 2283.3,1295 2295,1296.7 2300,1301.7 2291.7,1313.3 2290,1318.3 2300,1323.3 2308.3,1336.7 2308.3,1353.3 2305,1366.7 2310,1380 2311.7,1393.3 2318.3,1406.7 2328.3,1423.3 2325,1440 2335,1446.7 2341.7,1453.3 2343.3,1471.7 2333.3,1476.7 2316.7,1473.3 2306.7,1465 2296.7,1458.3 2286.7,1460 2280,1455 2263.3,1456.7 2246.7,1461.7 2235,1463.3 2233.3,1453.3 2226.7,1443.3 2216.7,1435 2205,1435 2201.7,1426.7 2198.3,1416.7 2190,1420 2185,1428.3 2180,1416.7 2186.7,1415 2183.3,1406.7 2176.7,1396.7 2166.7,1386.7 2153.3,1375 2150,1363.3 2141.7,1350 2133.3,1356.7 2121.7,1348.3 2118.3,1333.3 2123.3,1321.7 2135,1321.7 2143.3,1316.7 2150,1305 2160,1300 2170,1301.7 2180,1296.7 2190,1293.3 2200,1286.7 2210,1281.7 2220,1276.7 2223.3,1265Z" fill="#1c67b3" stroke="#fff" stroke-opacity="0.75" stroke-width="1.3" stroke-linejoin="round"/>
<path d="M885,1020 888.8,1032.5 881.2,1042.5 885,1045 897.5,1045 898.8,1057.5" fill="none" stroke="#fff" stroke-opacity="0.75" stroke-width="1.3" stroke-linejoin="round"/>
<path d="M961.2,1148.8 960,1157.5 958.8,1170 952.5,1180 946.2,1190 947.5,1202.5 945,1210 952.5,1217.5 955,1223.8" fill="none" stroke="#fff" stroke-opacity="0.75" stroke-width="1.3" stroke-linejoin="round"/>
<path d="M883.3,746.7 885,763.3 893.3,776.7 900,793.3 906.7,810 913.3,826.7 925,830 930,840" fill="none" stroke="#fff" stroke-opacity="0.75" stroke-width="1.3" stroke-linejoin="round"/>
<path d="M1013.3,645 1010,653.3 1015,673.3 1025,683.3 1031.7,690 1023.3,700 1036.7,703.3 1043.3,686.7 1048.3,685 1058.3,690 1063.3,703.3 1078.3,710 1073.3,725 1083.3,736.7 1089.3,743.3 1081.7,753.3 1086.7,766.7 1091.7,771.7" fill="none" stroke="#fff" stroke-opacity="0.75" stroke-width="1.3" stroke-linejoin="round"/>
<path d="M1240,623.3 1231.7,636.7 1226.7,651.7 1213.3,643.3 1203.3,638.3 1193.3,640 1181.7,633.3 1175,635 1171.7,650 1165,660 1173.3,671.7 1170,686.7 1163.3,696.7 1166.7,710 1161.7,726.7 1165,743.3 1163.3,760 1166.7,773.3 1160,790 1153.3,801.7 1150,805" fill="none" stroke="#fff" stroke-opacity="0.75" stroke-width="1.3" stroke-linejoin="round"/>
<path d="M1166.7,773.3 1180,768.3 1186.7,771.7 1196.7,770 1203.3,765 1216.7,766.7 1226.7,761.7 1244,758.3" fill="none" stroke="#fff" stroke-opacity="0.75" stroke-width="1.3" stroke-linejoin="round"/>
<path d="M668.3,860 680,861.7 690,856.7 701.7,846.7" fill="none" stroke="#fff" stroke-opacity="0.75" stroke-width="1.3" stroke-linejoin="round"/>
<path d="M763.3,938.3 756.7,940 746.7,946.7 743.3,960 746.7,963.3 733.3,966.7 730,976.7 716.7,983.3 700,990 698.3,1000 688.3,1001.7 683.3,993.3 678.3,990" fill="none" stroke="#fff" stroke-opacity="0.75" stroke-width="1.3" stroke-linejoin="round"/>
<path d="M845,946.7 856.7,950 861.7,960 856.7,973.3 853.3,986.7 840,995 833.3,1006.7 840,1013.3 850,1015 853.3,1020" fill="none" stroke="#fff" stroke-opacity="0.75" stroke-width="1.3" stroke-linejoin="round"/>
<path d="M1036.7,1013.3 1040,1003.3 1051.7,998.3 1053.3,990 1066.7,986.7 1076.7,993.3 1090,995 1103.3,1000 1113.3,998.3 1115,983.3 1121.7,970 1133.3,963.3 1140,951.7 1150,950 1155,941.7 1166.7,938.3" fill="none" stroke="#fff" stroke-opacity="0.75" stroke-width="1.3" stroke-linejoin="round"/>
<path d="M1043.3,1093.3 1053.3,1091.7 1066.7,1085 1080,1080 1091.7,1076.7 1100,1080 1096.7,1091.7 1106.7,1090 1115,1083.3 1126.7,1080 1140,1085 1150,1090 1163.3,1096.7 1173.3,1090 1186.7,1091.7 1200,1093.3 1213.3,1086.7 1223.3,1080 1223.3,1066.7 1233.3,1055 1244,1050" fill="none" stroke="#fff" stroke-opacity="0.75" stroke-width="1.3" stroke-linejoin="round"/>
<path d="M313.3,1126.7 323.3,1133.3 330,1138.3 331.7,1148.3 341.7,1143.3 351.7,1141.7 356.7,1150 355,1160 348.3,1165 353.3,1170 361.7,1167.3" fill="none" stroke="#fff" stroke-opacity="0.75" stroke-width="1.3" stroke-linejoin="round"/>
<path d="M210,1210 221.7,1211.7 228.3,1216 233.3,1208.3 243.3,1203.3 251.7,1205 255,1216.7 258.3,1216.7 260,1206.7 268.3,1203.3 280,1193.3 293.3,1191.7 300,1188.3 310,1190 320,1196.7 330,1196.7 341.7,1191.7 350,1198.3 358.3,1193.3 365,1188.3" fill="none" stroke="#fff" stroke-opacity="0.75" stroke-width="1.3" stroke-linejoin="round"/>
<path d="M355,896.7 365,906.7 380,908.3 393.3,913.3 406.7,916.7 416.7,923.3 413.3,933.3 423.3,935 433.3,931.7 446.7,933.3 456.7,930 463.3,938.3 465,950 460,960 463.3,973.3 461.7,986.7 466.7,996.7 461.7,1003.3 470,1011.7 478.3,1006.7" fill="none" stroke="#fff" stroke-opacity="0.75" stroke-width="1.3" stroke-linejoin="round"/>
<path d="M513.3,760 515,773.3 521.7,786.7 530,795 540,790 538.3,803.3 548.3,805 553.3,815 563.3,821.7 568.3,836.7 576.7,846.7 585,860 580,870 586.7,880 586.7,888.3" fill="none" stroke="#fff" stroke-opacity="0.75" stroke-width="1.3" stroke-linejoin="round"/>
<path d="M243.3,1403.3 256.7,1395 268.3,1388.3 278.3,1390 285,1383.3 296.7,1385 315,1376.7 325,1384 333.3,1388.3 338.3,1370 363.3,1370 380,1372.7" fill="none" stroke="#fff" stroke-opacity="0.75" stroke-width="1.3" stroke-linejoin="round"/>
<path d="M636.7,1173.3 626.7,1178.3 620,1188.3 606.7,1186.7 596.7,1193.3 585,1195 576.7,1203.3 576.7,1215 571.7,1226.7 573.3,1243.3 570,1256.7 576.7,1270 566.7,1280 563.3,1291.7 576.7,1300 571.7,1310 563.3,1323.3 573.3,1333.3 580,1348.3 593.3,1356.7 596.7,1370 593.3,1383.3" fill="none" stroke="#fff" stroke-opacity="0.75" stroke-width="1.3" stroke-linejoin="round"/>
<path d="M563.3,1270 550,1280 536.7,1290 530,1281.7 523.3,1271.7 511.7,1273.3 510,1283.3 500,1286.7 486.7,1281.7 478.3,1290 485,1310 491.7,1320 488.3,1336.7 490,1346.7 500,1350 520,1346.7 533.3,1350 536.7,1360 531.7,1370 543.3,1376.7 556.7,1386.7 570,1383.3 580,1370 583.3,1356.7 593.3,1346.7" fill="none" stroke="#fff" stroke-opacity="0.75" stroke-width="1.3" stroke-linejoin="round"/>
<path d="M390,1380 396.7,1366.7 406.7,1356.7 420,1350 433.3,1343.3 446.7,1345 455,1356.7 466.7,1358.3 480,1353.3 490,1346.7" fill="none" stroke="#fff" stroke-opacity="0.75" stroke-width="1.3" stroke-linejoin="round"/>
<path d="M1320.7,673.3 1322.3,683.3 1332.3,693.3 1330.7,713.3 1334,733.3 1337.3,746.7 1332.3,758.3 1342.3,771.7 1334,793.3 1344,806.7 1350.7,818.3 1355.7,830 1340.7,831.7" fill="none" stroke="#fff" stroke-opacity="0.75" stroke-width="1.3" stroke-linejoin="round"/>
<path d="M1265.7,675 1264,683.3 1257.3,686.7 1259,706.7 1260.7,726.7 1250.7,733.3 1244,738.3" fill="none" stroke="#fff" stroke-opacity="0.75" stroke-width="1.3" stroke-linejoin="round"/>
<path d="M1395.7,941.7 1390.7,953.3 1377.3,953.3 1365.7,950 1357.3,960 1347.3,968.3 1337.3,960 1327.3,956.7 1322.3,946.7 1312.3,941.7 1307.3,953.3 1297.3,948.3 1287.3,955 1287.3,966.7 1272.3,970 1267.3,980 1260.7,980" fill="none" stroke="#fff" stroke-opacity="0.75" stroke-width="1.3" stroke-linejoin="round"/>
<path d="M1415.7,933.3 1420.7,943.3 1429,940 1437.3,950 1447.3,953.3 1450.7,965 1464,966.7 1477.3,960 1487.3,965 1500.7,963.3 1510.7,956.7 1517.3,970 1527.3,965 1539,963.3 1542.3,953.3 1557.3,946.7 1569,940 1577.3,930 1587.3,936.7 1597.3,926.7 1599,916.7" fill="none" stroke="#fff" stroke-opacity="0.75" stroke-width="1.3" stroke-linejoin="round"/>
<path d="M1477.3,960 1484,970 1489,983.3 1500.7,993.3 1504,1005 1514,1010 1515.7,1018.3 1510.7,1030 1500.7,1030 1495.7,1041.7 1499,1051.7 1490.7,1053.3 1490.7,1066.7 1497.3,1076.7 1499,1091.7 1514,1096.7 1520.7,1110 1534,1113.3 1544,1124" fill="none" stroke="#fff" stroke-opacity="0.75" stroke-width="1.3" stroke-linejoin="round"/>
<path d="M1490.7,1053.3 1477.3,1053.3 1464,1048.3 1450.7,1051.7 1449,1063.3 1437.3,1066.7 1424,1068.3 1419,1056.7 1417.3,1046.7 1409,1043.3 1397.3,1051.7 1394,1065 1380.7,1070 1370.7,1075 1357.3,1070 1340.7,1068.3 1330.7,1060 1317.3,1068.3 1314,1080 1302.3,1083.3 1287.3,1091.7 1285.7,1083.3" fill="none" stroke="#fff" stroke-opacity="0.75" stroke-width="1.3" stroke-linejoin="round"/>
<path d="M674,1305.7 684,1297.3 694,1294 704,1285.7 707.3,1275.7 724,1265.7 737.3,1264 742.3,1257.3 750.7,1267.3 755.7,1279 764,1277.3 770.7,1285.7 775.7,1275.7 787.3,1264 797.3,1254 807.3,1240.7 817.3,1234 829,1222.3" fill="none" stroke="#fff" stroke-opacity="0.75" stroke-width="1.3" stroke-linejoin="round"/>
<path d="M680.7,1184 684,1207.3 680.7,1220.7 687.3,1230.7 679,1240.7 677.3,1257.3 674,1270.7" fill="none" stroke="#fff" stroke-opacity="0.75" stroke-width="1.3" stroke-linejoin="round"/>
<path d="M902.3,1280.7 904,1297.3 899,1304 904,1315.7 914,1320.7 922.3,1325.7 924,1334 937.3,1327.3 940.7,1337.3 945.7,1347.3 940.7,1357.3 937.3,1364 942.3,1374 940.7,1385.7 954,1390.7 960.7,1400.7 965.7,1414 970.7,1424 969,1432.3 960.7,1439 964,1444 980.7,1445.7 987.3,1455.7 994,1444 1007.3,1434 1019,1427.3 1017.3,1412.3 1024,1397.3 1034,1387.3 1040.7,1394 1050.7,1399 1060.7,1410.7 1072.3,1404 1079,1417.3 1087.3,1430.7 1097.3,1440.7" fill="none" stroke="#fff" stroke-opacity="0.75" stroke-width="1.3" stroke-linejoin="round"/>
<path d="M725.7,1457.3 729,1449 744,1447.3 754,1437.3 755.7,1425.7 764,1420.7 774,1422.3 774,1437.3 787.3,1439 800.7,1435.7 814,1437.3 827.3,1435.7 834,1422.3 847.3,1417.3 857.3,1420.7 860.7,1427.3 870.7,1434 874,1440.7 887.3,1437.3 900.7,1424 910.7,1427.3 924,1437.3 934,1430.7 947.3,1437.3 960.7,1439" fill="none" stroke="#fff" stroke-opacity="0.75" stroke-width="1.3" stroke-linejoin="round"/>
<path d="M924,1437.3 915.7,1454 919,1467.3 924,1477.3 920.7,1490.7 922.3,1504 912.3,1514 919,1530.7 917.3,1544 907.3,1550.7 904,1564 897.3,1565.7" fill="none" stroke="#fff" stroke-opacity="0.75" stroke-width="1.3" stroke-linejoin="round"/>
<path d="M1089,1209 1090.7,1224 1090.7,1240.7 1097.3,1254 1102.3,1267.3 1102.3,1277.3 1117.3,1284 1122.3,1294 1132.3,1302.3 1140.7,1310.7 1154,1320.7 1160.7,1327.3 1174,1330.7 1189,1337.3" fill="none" stroke="#fff" stroke-opacity="0.75" stroke-width="1.3" stroke-linejoin="round"/>
<path d="M1090.7,1575.7 1104,1585.7 1114,1594 1120.7,1589 1130.7,1584 1140.7,1594 1154,1600.7 1159,1604 1157.3,1612.3 1150.7,1612.3 1167.3,1617.3 1174,1629 1184,1632.3 1192.3,1622.3 1200.7,1627.3 1215.7,1630.7 1217.3,1637.3 1234,1632.3 1249,1632.3 1250.7,1647.3 1247.3,1664 1254,1677.3 1264,1687.3 1277.3,1694 1284,1685.7 1297.3,1690.7 1318,1687.3" fill="none" stroke="#fff" stroke-opacity="0.75" stroke-width="1.3" stroke-linejoin="round"/>
<path d="M1215.7,1630.7 1220.7,1614 1224,1600.7 1234,1594 1240.7,1594 1247.3,1577.3 1254,1570.7 1257.3,1557.3 1262.3,1550.7 1260.7,1540.7 1274,1537.3 1270.7,1524 1264,1524 1262.3,1510.7 1265.7,1500.7 1260.7,1490.7 1259,1480.7 1267.3,1470.7 1277.3,1460.7 1270.7,1450.7 1267.3,1440.7 1274,1430.7 1272.3,1419 1284,1405.7 1274,1397.3 1267.3,1387.3 1252.3,1379 1240.7,1387.3 1227.3,1387.3 1214,1380.7" fill="none" stroke="#fff" stroke-opacity="0.75" stroke-width="1.3" stroke-linejoin="round"/>
<path d="M1277.3,1460.7 1290.7,1457.3 1300.7,1462.3 1310.7,1467.3 1318,1469" fill="none" stroke="#fff" stroke-opacity="0.75" stroke-width="1.3" stroke-linejoin="round"/>
<path d="M1548,1252.3 1546.3,1234 1554.7,1224 1566.3,1220.7 1568,1204 1578,1195.7 1593,1204 1598,1189 1608,1184 1611.3,1174 1619.7,1177.3 1626.3,1190.7 1634.7,1202.3 1643,1214 1631.3,1215.7 1639.7,1224 1648,1230.7 1654.7,1240.7 1668,1242.3 1669.7,1237.3 1678,1242.3 1688,1240.7 1693,1250.7 1694.7,1260.7 1703,1260.7 1704.7,1252.3 1718,1244 1729.7,1237.3 1744.7,1242.3 1766.3,1245.7" fill="none" stroke="#fff" stroke-opacity="0.75" stroke-width="1.3" stroke-linejoin="round"/>
<path d="M1526.3,1324 1531.3,1340.7 1544.7,1342.3 1558,1350.7 1571.3,1357.3 1584.7,1364 1594.7,1379 1608,1385.7 1621.3,1390.7 1633,1400.7 1639.7,1410.7" fill="none" stroke="#fff" stroke-opacity="0.75" stroke-width="1.3" stroke-linejoin="round"/>
<path d="M1639.7,1410.7 1648,1400.7 1661.3,1399 1674.7,1400.7 1694.7,1400.7 1696.3,1380.7 1708,1380.7 1721.3,1379 1738,1380.7 1754.7,1384 1768,1390.7 1784.7,1399 1791.3,1400.7" fill="none" stroke="#fff" stroke-opacity="0.75" stroke-width="1.3" stroke-linejoin="round"/>
<path d="M1639.7,1410.7 1638,1422.3 1631.3,1427.3 1638,1434 1646.3,1440.7 1643,1452.3 1634.7,1460.7 1626.3,1459 1629.7,1467.3 1634.7,1472.3" fill="none" stroke="#fff" stroke-opacity="0.75" stroke-width="1.3" stroke-linejoin="round"/>
<path d="M1451.3,1337.3 1444.7,1347.3 1441.3,1360.7 1431.3,1367.3 1428,1377.3 1418,1387.3 1411.3,1390.7 1413,1404 1414.7,1417.3 1409.7,1424 1404.7,1437.3" fill="none" stroke="#fff" stroke-opacity="0.75" stroke-width="1.3" stroke-linejoin="round"/>
<path d="M1404.7,1437.3 1394.7,1435.7 1386.3,1432.3 1384.7,1447.3 1374.7,1457.3 1364.7,1445.7 1356.3,1445.7 1348,1457.3 1353,1470.7 1343,1475.7 1331.3,1467.3 1318,1467.3" fill="none" stroke="#fff" stroke-opacity="0.75" stroke-width="1.3" stroke-linejoin="round"/>
<path d="M1404.7,1437.3 1411.3,1450.7 1418,1464 1426.3,1470.7 1429.7,1482.3 1438,1490.7 1434.7,1507.3 1426.3,1512.3 1414.7,1510.7 1418,1524 1424.7,1529 1429.7,1542.3 1434.7,1549" fill="none" stroke="#fff" stroke-opacity="0.75" stroke-width="1.3" stroke-linejoin="round"/>
<path d="M1434.7,1549 1444.7,1560.7 1458,1560.7 1464.7,1554 1471.3,1564 1476.3,1574 1486.3,1569 1498,1570.7 1506.3,1584 1514.7,1590.7 1521.3,1589 1531.3,1600.7 1544.7,1594 1558,1602.3 1566.3,1607.3 1569.7,1615.7 1581.3,1610.7 1598,1609" fill="none" stroke="#fff" stroke-opacity="0.75" stroke-width="1.3" stroke-linejoin="round"/>
<path d="M1434.7,1549 1418,1550.7 1404.7,1555.7 1398,1564 1398,1575.7 1389.7,1585.7 1393,1597.3 1383,1607.3 1384.7,1622.3 1378,1624 1364.7,1607.3 1354.7,1617.3 1354.7,1630.7 1361.3,1647.3 1366.3,1664 1363,1684 1361.3,1704 1348,1714 1341.3,1724 1328,1727.3 1318,1734" fill="none" stroke="#fff" stroke-opacity="0.75" stroke-width="1.3" stroke-linejoin="round"/>
<path d="M1808,1325.7 1806.3,1340.7 1801.3,1354" fill="none" stroke="#fff" stroke-opacity="0.75" stroke-width="1.3" stroke-linejoin="round"/>
<path d="M1318,1734 1323.3,1733.3 1316.7,1743.3 1320,1755 1306.7,1766.7 1303.3,1771.7 1313.3,1775 1316.7,1783.3 1326.7,1785 1336.7,1793.3 1344,1796.7" fill="none" stroke="#fff" stroke-opacity="0.75" stroke-width="1.3" stroke-linejoin="round"/>
<path d="M1866.5,996 1869,1015 1875,1032.5 1880,1041.7 1886.7,1051.7 1896.7,1053.3 1906.7,1051.7 1915,1060 1921.7,1071.7 1933.3,1081.7 1945,1088.3" fill="none" stroke="#fff" stroke-opacity="0.75" stroke-width="1.3" stroke-linejoin="round"/>
<path d="M2355,1206.7 2350,1215 2340,1221.7 2326.7,1230 2313.3,1238.3 2300,1235 2290,1233.3 2280,1225 2268.3,1220 2265,1228.3 2255,1236.7 2256.7,1251.7 2253.3,1260 2256.7,1268.3" fill="none" stroke="#fff" stroke-opacity="0.75" stroke-width="1.3" stroke-linejoin="round"/>
<path d="M2350,1215 2353.3,1226.7 2361.7,1225 2365,1236.7 2368.3,1253.3 2371.7,1265 2380,1268.3 2386.7,1280 2386.7,1293.3 2385,1305 2386.7,1313.3" fill="none" stroke="#fff" stroke-opacity="0.75" stroke-width="1.3" stroke-linejoin="round"/>
<path d="M2310,1335 2323.3,1321.7 2316.7,1313.3 2328.3,1315 2338.3,1306.7 2350,1305 2360,1306.7 2361.7,1300 2373.3,1306.7 2380,1303.3 2385,1305" fill="none" stroke="#fff" stroke-opacity="0.75" stroke-width="1.3" stroke-linejoin="round"/>
<path d="M2386.7,1313.3 2403.3,1310 2413.3,1311.7 2420,1320 2430,1323.3 2440,1330 2453.3,1326.7 2466.7,1325 2471.7,1320" fill="none" stroke="#fff" stroke-opacity="0.75" stroke-width="1.3" stroke-linejoin="round"/>
<path d="M2058.3,1280 2060,1290 2066.7,1300 2076.7,1306.7 2083.3,1313.3 2096.7,1305 2110,1310 2120,1316.7 2123.3,1321.7" fill="none" stroke="#fff" stroke-opacity="0.75" stroke-width="1.3" stroke-linejoin="round"/>
<path d="M2118.3,1346.7 2106.7,1350 2096.7,1356.7 2086.7,1363.3 2086.7,1373.3 2080,1383.3 2080,1396.7 2076.7,1410 2063.3,1410 2050,1416.7 2036.7,1423.3 2035,1440 2023.3,1443.3 2010,1448.3 1998.3,1456.7 1996.7,1465 1980,1475 1980,1486.7 1986.7,1500" fill="none" stroke="#fff" stroke-opacity="0.75" stroke-width="1.3" stroke-linejoin="round"/>
<path d="M2201.7,1426.7 2203.3,1440 2198.3,1450 2193.3,1451.7 2180,1446.7 2173.3,1456.7 2163.3,1463.3 2158.3,1473.3 2156.7,1486.7 2156.7,1504" fill="none" stroke="#fff" stroke-opacity="0.75" stroke-width="1.3" stroke-linejoin="round"/>
<path d="M633.3,1667.3 623.3,1670.7 613.3,1680.7 605,1675.7 598.3,1677.3 598.3,1690.7 595,1700.7 601.7,1714 603.3,1727.3 596.7,1737.3 588.3,1739 583.3,1750.7 580,1764 578.3,1774 583.3,1784" fill="none" stroke="#fff" stroke-opacity="0.75" stroke-width="1.3" stroke-linejoin="round"/>
<path d="M1587.3,1703.3 1597.3,1718.3 1607.3,1716.7 1617.3,1723.3 1627.3,1726.7 1630.7,1735 1637.3,1728.3 1645.7,1726.7 1655.7,1736.7 1662.3,1745 1655.7,1756.7 1650.7,1763.3 1655.7,1771.7 1649,1781.7 1642.3,1791.7 1655.7,1796.7 1655.7,1805 1645.7,1805 1645.7,1826.7 1655.7,1830" fill="none" stroke="#fff" stroke-opacity="0.75" stroke-width="1.3" stroke-linejoin="round"/>
<path d="M2164.3,1551.7 2152.7,1551.7 2144.3,1546.7 2136,1553.3 2122.7,1560 2116,1556.7 2102.7,1560 2094.3,1565 2102.7,1570 2099.3,1580 2094.3,1590 2089.3,1600 2081,1600 2074.3,1596.7 2069.3,1605 2061,1600 2051,1598.3 2042.7,1606.7 2044.3,1616.7 2049.3,1626.7 2037.7,1630 2039.3,1638.3 2027.7,1643.3 2014.3,1648.3 2002.7,1651.7 1989.3,1655 1976,1663.3 1966,1673.3 1956,1681.7" fill="none" stroke="#fff" stroke-opacity="0.75" stroke-width="1.3" stroke-linejoin="round"/>
<path d="M2014.3,1648.3 2022.7,1660 2032.7,1670 2041,1683.3 2051,1690 2062.7,1678.3 2076,1676.7 2091,1671.7 2106,1673.3 2107.7,1685 2099.3,1693.3 2102.7,1703.3 2109.3,1711.7 2117.7,1715 2119.3,1730 2131,1728.3 2134.3,1721.7 2149.3,1713.3 2156,1718.3 2164.3,1721.7 2176,1731.7 2192.7,1730 2194.3,1743.3 2204.3,1755" fill="none" stroke="#fff" stroke-opacity="0.75" stroke-width="1.3" stroke-linejoin="round"/>
<path d="M1956,1743.3 1966,1755 1979.3,1756.7 1992.7,1761.7 1997.7,1768.3 1996,1778.3 2009.3,1780 2017.7,1788.3 2026,1795 2039.3,1790 2049.3,1788.3 2056,1795 2066,1796.7 2067.7,1805 2066,1815 2076,1816.7 2087.7,1823.3 2092.7,1833.3 2099.3,1843.3 2102.7,1853.3" fill="none" stroke="#fff" stroke-opacity="0.75" stroke-width="1.3" stroke-linejoin="round"/>
<path d="M2342.7,1461.7 2347.7,1471.7 2352.7,1483.3 2364.3,1490 2371,1500 2372.7,1515 2386,1521.7" fill="none" stroke="#fff" stroke-opacity="0.75" stroke-width="1.3" stroke-linejoin="round"/>
<path d="M745,1135 755,1137.5 767.5,1129 782.5,1122.5 796,1120" fill="none" stroke="#fff" stroke-opacity="0.75" stroke-width="1.3" stroke-linejoin="round"/>
<path d="M1256.1,1127 1267,1137.8 1275.7,1140 1286.5,1146.5 1295.2,1148.7 1297.4,1154.1 1293,1158.5 1301.7,1165 1310.4,1170.4 1318,1174.8 1319.1,1183.5 1313.7,1185.7 1314.8,1190 1320.2,1195.4 1315.9,1205.2 1312.6,1213.9 1307.2,1216.1 1308.3,1227 1306.1,1235.7" fill="none" stroke="#fff" stroke-opacity="0.75" stroke-width="1.3" stroke-linejoin="round"/>
<path d="M1319.1,1183.5 1325.7,1184.6 1332.2,1186.7 1338.7,1188.9 1347.4,1184.6 1356.1,1181.3 1363.7,1177 1364.8,1170.4 1371.3,1163.9 1380,1166.1 1388.7,1163.9 1395.2,1161.7 1397.4,1157.4 1406.1,1159.6 1412.6,1162.8 1420.2,1165 1425.7,1159.6 1432.2,1153 1438.7,1152 1445.2,1159.6 1451.7,1157.4 1456.1,1156.3 1462.6,1157.4 1471.3,1163.9 1477.8,1168.3 1484.3,1168.3 1488.7,1163.9 1495.2,1160.7 1498.5,1157.4 1503.9,1158.5 1508.3,1163.9" fill="none" stroke="#fff" stroke-opacity="0.75" stroke-width="1.3" stroke-linejoin="round"/>
<path d="M1317.5,1687.5 1332.5,1689 1335,1700 1344,1711" fill="none" stroke="#fff" stroke-opacity="0.75" stroke-width="1.3" stroke-linejoin="round"/>
<path d="M580,1347.5 597.5,1355 620,1367.5 642.5,1375 650,1392.5 660,1420 662.5,1450" fill="none" stroke="#fff" stroke-opacity="0.75" stroke-width="1.3" stroke-linejoin="round"/>
<path d="M1908,1717.5 1914,1700 1920,1691 1939,1686 1956.5,1680" fill="none" stroke="#fff" stroke-opacity="0.75" stroke-width="1.3" stroke-linejoin="round"/>
<path d="M1959,1585 1944,1586 1934,1589 1930,1600" fill="none" stroke="#fff" stroke-opacity="0.75" stroke-width="1.3" stroke-linejoin="round"/>
</g>
<use href="#cz" fill="none" stroke="#fff" stroke-opacity="0.6" stroke-width="2" stroke-linejoin="round" clip-path="url(#czc)"/>
<defs><path id="czk" d="M1657.9,522.7 1653.4,515 1652.1,508.6 1650.8,502.3 1647,499.7 1640.6,497.2 1638,492.1 1634.8,484.5 1638,480.6 1643.1,478.1 1644.4,471.7 1646.9,465.3 1649.4,460.2 1653.2,455.1 1655.8,448.7 1654.5,444.9 1648.1,442.4 1644.9,439.8 1646.8,436 1647.4,432.8 1643,430.9 1639.2,428.4 1635.3,425.8 1630.2,422 1625.1,418.2 1621.3,415.7 1617.4,413.1 1614.3,410.6 1613.6,406.8 1609.8,404.2 1605.9,400.4 1605.3,395.3 1606.6,390.2 1604.6,385.1 1603.3,380 1598.2,374.9 1594.4,371.1 1589.9,367.3 1592.4,364.8 1596.3,362.8 1594.3,359.6 1595,354.6 1592.4,352 1596.9,351.4 1603.2,351.4 1605.8,354.5 1606.5,360.9 1612.2,363.4 1615.4,367.2 1613.5,369.8 1618,374.9 1619.3,381.3 1620.5,385.7 1624.4,386.3 1623.1,380 1623.7,373.6 1626.2,369.8 1627.5,364.7 1631.3,359.5 1634.5,357.6 1633.8,353.2 1639,350.6 1640.2,346.8 1644,344.2 1646.6,340.4 1650.4,334 1658,332.1 1665.7,330.2 1669.5,331.4 1673.3,330.7 1677.1,332 1679.7,327.6 1686,323.7 1691.1,321.1 1693.7,318.6 1697.5,322.4 1703.9,326.2 1710.9,330 1715.4,327.5 1720.5,323.6 1723,318.5 1722.3,310.9 1724.2,307.7 1730.6,308.3 1737,305.7 1739.5,305.1 1745.9,307.6 1749.7,300.6 1752.2,292.9 1756,287.8 1760.5,289.7 1765,285.3 1770.1,280.8 1772,277.6 1772.9,274.1 1777.7,279.5 1783.8,285.2 1791.1,278.5 1794.9,269.9 1794.5,263.2 1799.6,259.3 1807,257.1 1810.1,254.5 1814,253.9 1818.4,256.4 1821,254.5 1824.8,255.2 1828,253.2 1831.8,253.8 1836.3,255.1 1840.7,251.9 1842.6,253.8 1845.8,251.9 1845.8,246.8 1847.1,241.7 1852.2,239.8 1855.3,236.6 1860.5,234.6 1864.3,236.5 1868.1,236.5 1871.9,233.3 1875.7,232.1 1880.8,228.8 1885.9,226.9 1888.5,226.3 1893.5,222.5 1894.2,218.6 1899.3,215.4 1903.7,217.3 1910.1,214.8 1911.4,213.5 1916.5,210.9 1917.7,207.1 1912.6,203.9 1907.5,202.6 1905,200.1 1906.2,195.7 1899.9,195 1897.3,194.4 1898.6,189.3 1900.5,186.7 1899.8,182.9 1903.6,178.4 1907.5,179.7 1911.3,182.9 1915.1,182.2 1919,185.4 1924,184.1 1926.6,182.2 1931.1,183.5 1931.7,180.9 1933.2,180.9 1933.6,184.1 1936.8,186.6 1939.3,189.8 1942.6,189.2 1946.4,193.6 1947,199.4 1945.8,204.5 1942.6,208.3 1947,208.9 1954.1,207 1954.1,212.1 1952.2,218.5 1949.7,224.8 1952.8,226.1 1956.7,228 1961.1,228.6 1963.7,232.4 1968.8,231.8 1973.9,232.4 1975.8,227.3 1977.7,222.2 1982.8,220.9 1987.9,219.6 1993,220.3 1998.1,221.5 2003.2,220.9 2002.5,214.5 2003.1,208.1 2005.7,202.4 2005,196.6 2001.2,194.7 1998.6,193.5 2000.5,189.7 2004.4,186.4 2008.2,186.4 2011.4,185.2 2015.8,187.1 2021,189.6 2023.5,190.9 2026,186.4 2028.6,187.7 2029.2,193.4 2032.4,194 2037.5,191.5 2041.4,196.6 2045.2,201.6 2044,206.8 2043.3,211.8 2045.9,218.2 2050.6,223.3 2053.8,225.9 2056.4,229.7 2057.6,236 2057.1,242.4 2061.5,240.5 2064.7,236.6 2067.2,236 2071,239.2 2075.5,240.4 2079.4,243.6 2084.4,243 2088.9,243.6 2094,246.1 2098.5,247.4 2102.3,251.2 2106.8,252.5 2110.6,251.2 2115.7,251.2 2117,248.6 2120.2,248.6 2122.1,252.4 2124,257.5 2125.9,261.3 2127.2,266.4 2132.3,265.8 2137.4,263.9 2141.9,263.2 2145.1,267 2146.4,272.8 2148.3,277.8 2144.5,281.7 2148.9,284.2 2153.4,282.3 2154.7,276.6 2159.7,270.8 2164.2,271.4 2169.3,274 2171.9,277.8 2177,276.5 2178.2,268.2 2183.3,268.2 2186.5,270.1 2191,268.8 2196.1,271.4 2201.2,279 2206.3,284.1 2209.5,288.5 2205,292.4 2203.1,298.1 2202.5,301.9 2198.7,307 2194.9,308.3 2191.1,307.7 2187.9,312.1 2184.1,313.5 2180.9,316 2177.7,318.6 2175.2,322.4 2176.4,327.5 2180.9,329.4 2182.9,333.8 2186,336.4 2189.9,335.7 2197.5,337 2199.4,344.6 2203.3,349.1 2207.1,349.7 2210.3,354.2 2215.4,361.8 2219.3,367.5 2225,375.8 2227,384.7 2229.6,391.1 2234.6,394.9 2239.7,400 2246.1,401.3 2250,397.4 2252.5,393.6 2258.8,385.9 2265.2,380.8 2270.3,376.9 2272.8,373.1 2279.2,370.6 2284.3,367.3 2288.1,370.5 2289.4,373.1 2291.3,370.5 2289.4,365.4 2290,360.3 2286.8,355.3 2281.7,352.7 2279.2,347.6 2276.6,341.2 2274,334.9 2270.2,330.4 2268.2,327.9 2270.1,322.8 2274.6,320.2 2279.1,322.8 2284.2,325.9 2288,324.7 2293.1,327.2 2294.1,327.2 2299.9,330.4 2303.7,330.3 2306.9,334.2 2310.7,335.4 2314.5,334.1 2317.7,336 2317.1,339.2 2319.7,342.4 2324.8,346.9 2331.2,349.4 2337.5,348.1 2338.2,352.6 2336.9,357.6 2338.9,362.8 2340.1,359.5 2345.2,359.5 2348.4,360.8 2349,365.9 2352.8,362.1 2358,360.8 2363.1,361.4 2368.1,360.1 2372,358.8 2375.8,362 2380.9,358.2 2384.7,355 2386.6,353.1 2386,348.6 2389.8,349.8 2391.7,353.7 2394.9,355 2392.4,360.1 2391.7,364.5 2396.2,369.6 2395.6,376.6 2391.1,377.3 2388.6,381.7 2383.5,383.7 2377.2,385.6 2373.3,388.1 2375.3,393.3 2379.1,395.8 2381.6,399.6 2385.5,398.3 2389.9,400.9 2393.1,405.3 2395.7,409.8 2397,414.8 2400.2,418.7 2405.3,422.5 2407.9,427.6 2411.7,430.8 2415.5,429.5 2420.6,427.6 2423.2,423.7 2428.2,422.4 2432.1,419.9 2436.5,423 2436.5,417.3 2432,416.1 2431.4,412.8 2434.6,410.3 2438.4,412.2 2442.9,416 2444.8,421.1 2448.6,424.9 2453.8,427.5 2456.9,426.2 2460.1,427.4 2461.4,431.3 2466.5,432.5 2470.3,435.1 2472.3,440.2 2475.4,442.7 2478,437.6 2483.1,439.5 2488.2,440.1 2492,441.4 2495.9,443.9 2501,446.5 2506.1,447.7 2507.3,442.6 2511.2,443.2 2512.4,447.7 2511.2,452.8 2516.3,457.9 2513.7,463 2515.1,469.4 2517.6,475.7 2519.5,483.4 2521.5,491 2526.6,493.5 2531.7,494.8 2534.3,499.3 2540.9,499.9 2544.7,501.1 2546.6,509.7 2550.6,520.3 2550,526.6 2553.2,531.7 2552,538.1 2545.6,539.4 2540.5,543.9 2535.4,544.5 2527.7,541.3 2522.6,542.6 2517.6,543.3 2513.7,541.4 2507.4,545.9 2508.6,551 2502.3,558.6 2498.5,563.7 2489.6,567.6 2490.2,574 2487.1,580.4 2474.3,587.4 2465.4,590.6 2457.8,593.2 2457.1,598.3 2452.7,602.1 2452.1,609.7 2450.2,616.1 2451.5,621.2 2447.6,627.6 2448.3,632.7 2447.1,640.3 2443.9,646.7 2438.8,651.8 2432.4,655.1 2426.1,654.4 2420.3,655.7 2419.1,660.8 2417.8,667.2 2415.3,672.3 2414.7,678.1 2407,678.7 2400.6,678.7 2395.6,683.9 2393.7,688.9 2387.9,692.8 2380.3,694.7 2375.2,698.6 2370.1,701.7 2363.7,704.3 2362.4,701.8 2357.4,700.5 2352.9,698 2345.9,703.7 2340.8,704.4 2335.7,699.9 2332.3,696.8 2326,693.6 2318.3,690.4 2313.2,695.6 2306.9,700.7 2304.3,707 2300.5,710.9 2296.7,716 2294.2,722.4 2290.4,728.7 2286.5,735.1 2284.6,741.5 2284.1,747.9 2280.2,751.1 2277.7,747.9 2277.7,741.5 2276.4,735.2 2275.1,728.8 2271.2,727.5 2266.1,728.8 2261.1,729.5 2255.9,727.6 2252.1,724.4 2248.3,722.5 2244.4,723.8 2242.5,720 2241.9,714.9 2238.1,712.3 2232.9,711.7 2229.1,709.2 2225.3,706.6 2222.8,706 2220.2,707.9 2213.2,706.6 2211.3,711.1 2210,716.2 2206.2,720 2203.7,723.9 2198.6,724.5 2195.4,722 2192.2,723.9 2187.1,722.7 2179.4,722 2169.2,720.8 2161.6,720.8 2153.9,717.6 2146.3,712.6 2141.1,707.5 2139.2,703.7 2134.8,701.1 2130.9,697.3 2125.8,694.8 2123.9,690.9 2115.6,692.3 2111.8,695.4 2104.2,694.8 2100.3,692.3 2095.2,688.5 2090.1,685.3 2086,684.7 2082.2,682.1 2077.1,679.6 2073.2,674.5 2068.2,673.3 2063,670.1 2057.9,666.9 2052.8,666.3 2047.7,668.2 2045.2,663.8 2042.6,670.8 2037.6,672 2032.4,673.4 2027.4,674.6 2026.1,670.8 2027.3,665.7 2024.8,662.5 2019.7,661.9 2014.6,661.3 2013.3,658.7 2008.2,657.5 2004.4,659.4 2002.5,664.5 2003.1,673.4 2003.8,681.1 2003.2,687.4 2001.9,692.6 2002.6,698.9 2000,702.7 1999.4,707.9 2001.9,713 1998.8,717.4 1995.6,716.8 1991.8,714.2 1989.2,713 1985.4,713.6 1981.6,713 1977.7,714.3 1977.8,719.4 1976.5,725.8 1971.4,729.6 1967.6,732.2 1965.7,736.6 1964.4,742.4 1965.7,747.5 1965.1,753.9 1963.8,758.9 1957.5,760.2 1955.6,755.1 1952.3,753.9 1949.8,749.4 1946,752 1942.2,753.9 1938.3,752 1933.2,751.4 1930.7,747.6 1929.4,745 1926.9,746.3 1927.5,750.7 1925.6,755.9 1920.5,757.8 1917.9,761 1914.1,762.3 1910.3,766.7 1905.2,762.9 1900.1,761 1895,759.1 1888.6,757.2 1882.2,756.6 1877.2,757.3 1872,755.4 1868.8,751.6 1865.7,747.7 1867.6,743.3 1870.7,740.7 1869.5,738.2 1865.6,735 1863.1,731.2 1858,728.6 1854.7,727.4 1851.6,722.3 1850.9,719.7 1847.7,718.5 1843.9,715.9 1841.3,714.9 1836.2,712.4 1832.4,707.3 1829.8,700.9 1826,694.6 1823.4,688.2 1818.3,685.6 1813.2,680.6 1809.4,675.5 1804.3,674.2 1801.7,670.4 1797.2,669.1 1794.1,669.1 1792.2,675.5 1786.4,671.7 1781.3,667.9 1778.1,664.1 1777.5,656.5 1774.9,650.1 1769.8,645 1764.6,638.6 1760.8,634.8 1755.7,634.8 1750.6,632.3 1745.5,628.5 1744.2,623.4 1739.1,618.3 1734,611.9 1730.1,605.6 1726.3,600.5 1724.4,596.7 1725,589 1718.6,586.5 1712.2,581.4 1704.6,580.2 1703.3,583.3 1698.2,582.1 1689.3,580.2 1686.7,575.1 1684.1,568.7 1679,563.6 1672.6,561.1 1670.1,554.8 1667.5,547.1 1668.8,539.5 1662.4,535.6 1659.8,530.6 1659.8,524.2Z"/><clipPath id="czck"><use href="#czk"/></clipPath></defs>
<use href="#czk" fill="#aed4fb" filter="url(#sh)"/>
<g clip-path="url(#czck)">
<path d="M2084.8,245.7 2090.2,264.6 2084.8,286.1 2092.9,302.3 2074.1,302.3 2066,313 2044.5,307.6 2025.6,307.6 2012.2,345.3 2044.5,388.4 2044.5,431.4 2079.5,444.9 2079.5,463.7 2092.9,474.5 2109.1,479.9 2125.2,490.7 2141.4,498.7 2152.1,493.4 2168.3,501.4 2184.4,509.5 2203.3,523 2206,531 2222.1,520.3 2238.3,514.9 2254.4,517.6 2262.5,506.8 2265.2,490.7 2259.8,474.5 2254.4,453 2251.7,426.1 2259.8,409.9 2262.5,393.8 2267.9,380.3 2259.8,372.2 2243.6,388.4 2227.5,361.5 2195.2,329.2 2206,318.4 2222.1,280.7 2184.4,256.5 2157.5,267.3 2130.6,245.7 2092.9,232.3Z" fill="#f5b0b5" stroke="#fff" stroke-opacity="0.75" stroke-width="1.3" stroke-linejoin="round"/>
<path d="M1826.5,541.8 1883,506.8 1963.7,506.8 1993.3,536.4 1990.6,555.3 1990.6,576.8 2006.8,592.9 2022.9,606.4 2039.1,617.2 2055.2,627.9 2071.4,630.6 2084.8,633.3 2084.8,646.8 2079.5,662.9 2084.8,673.7 2076.8,689.8 2006.8,679.1 2006.8,776 1861.4,776 1788.8,676.4 1796.9,668.3 1799.5,654.8 1807.6,641.4 1804.9,627.9 1813,617.2 1818.4,598.3 1826.5,576.8 1829.2,560.6Z" fill="#f5b0b5" stroke="#fff" stroke-opacity="0.75" stroke-width="1.3" stroke-linejoin="round"/>
<path d="M2079.5,676.4 2090.2,671 2109.1,662.9 2125.2,654.8 2146.7,649.5 2168.3,646.8 2173.7,630.6 2181.7,614.5 2184.4,592.9 2179,576.8 2184.4,555.3 2197.9,547.2 2203.3,533.7 2206,531 2222.1,520.3 2238.3,514.9 2254.4,517.6 2262.5,506.8 2259.8,528.3 2251.7,533.7 2259.8,544.5 2262.5,566 2273.3,560.6 2275.9,547.2 2284,552.6 2292.1,566 2297.5,579.5 2305.5,587.6 2310.9,595.6 2324.4,587.6 2335.2,576.8 2340.5,566 2351.3,574.1 2367.5,566 2378.2,558 2394.4,555.3 2410.5,544.5 2421.3,536.4 2437.4,541.8 2453.6,544.5 2469.7,552.6 2480.5,560.6 2488.6,568.7 2507.4,576.8 2485.9,603.7 2464.3,630.6 2442.8,668.3 2399.8,695.2 2345.9,722.1 2313.6,732.9 2284,776 2259.8,738.3 2222.1,727.5 2195.2,732.9 2152.1,722.1 2109.1,700.6 2071.4,687.1Z" fill="#f5b0b5" stroke="#fff" stroke-opacity="0.75" stroke-width="1.3" stroke-linejoin="round"/>
<path d="M1998.7,286.1 2006.8,291.5 2017.6,296.9 2022.9,307.6 2025.6,326.5 2022.9,342.6 2033.7,356.1 2047.2,361.5 2057.9,361.5 2055.2,383 2060.6,396.5 2068.7,404.5 2057.9,420.7 2071.4,431.4 2079.5,442.2 2076.8,453 2066,466.4 2055.2,474.5 2036.4,485.3 2031,501.4 2039.1,509.5 2033.7,517.6 2017.6,520.3 1996,531 1985.3,528.3 1971.8,520.3 1961,533.7 1947.6,541.8 1931.4,533.7 1915.3,536.4 1899.1,531 1883,536.4 1869.5,531 1856.1,541.8 1839.9,539.1 1826.5,541.8 1826.5,517.6 1831.8,501.4 1837.2,485.3 1834.5,463.7 1826.5,447.6 1813,439.5 1796.9,428.8 1778,418 1786.1,399.2 1802.2,388.4 1818.4,377.6 1839.9,366.9 1858.8,356.1 1861.4,348 1883,345.3 1904.5,342.6 1915.3,339.9 1915.3,326.5 1931.4,310.3 1947.6,313 1966.4,307.6 1974.5,296.9 1990.6,291.5Z" fill="#f2434b" stroke="#fff" stroke-opacity="0.75" stroke-width="1.3" stroke-linejoin="round"/>
<path d="M1896.4,401.8 1915.3,393.8 1936.8,385.7 1947.6,393.8 1961,399.2 1962.7,412.6 1955.7,426.1 1936.8,428.8 1920.7,439.5 1909.9,439.5 1904.5,420.7Z" fill="#f5b0b5" stroke="#fff" stroke-opacity="0.75" stroke-width="1.3" stroke-linejoin="round"/>
<path d="M2057.9,396.5 2076.8,399.2 2092.9,393.8 2109.1,396.5 2117.1,388.4 2136,388.4 2149.4,399.2 2162.9,404.5 2176.4,415.3 2189.8,412.6 2197.9,401.8 2214,391.1 2227.5,399.2 2241,404.5" fill="none" stroke="#fff" stroke-opacity="0.75" stroke-width="1.3" stroke-linejoin="round"/>
<path d="M2310.9,595.6 2308.2,614.5 2313.6,625.2 2305.5,636 2319,646.8 2329.8,660.2 2345.9,668.3 2362.1,676.4 2372.8,684.5 2378.2,695.2" fill="none" stroke="#fff" stroke-opacity="0.75" stroke-width="1.3" stroke-linejoin="round"/>
<path d="M1713.4,330.2 1732.3,337.2 1751.1,345.3 1753.8,372.2 1761.9,396.5 1767.2,404.5 1759.2,412.6 1743,420.7 1732.3,423.4 1716.1,434.1 1713.4,442.2 1694.6,442.2 1675.7,450.3 1656.9,447.6" fill="none" stroke="#fff" stroke-opacity="0.75" stroke-width="1.3" stroke-linejoin="round"/>
<path d="M1767.2,404.5 1778,415.3" fill="none" stroke="#fff" stroke-opacity="0.75" stroke-width="1.3" stroke-linejoin="round"/>
<path d="M1931.4,235 1926,251.1 1912.6,267.3 1918,286.1 1928.7,302.3 1931.4,310.3" fill="none" stroke="#fff" stroke-opacity="0.75" stroke-width="1.3" stroke-linejoin="round"/>
<path d="M2348.6,369.5 2335.2,383 2321.7,404.5 2313.6,428.8 2310.9,453 2324.4,463.7 2340.5,461.1 2356.7,458.4 2362.1,474.5 2378.2,485.3 2386.3,501.4 2399.8,517.6 2410.5,531 2421.3,536.4" fill="none" stroke="#fff" stroke-opacity="0.75" stroke-width="1.3" stroke-linejoin="round"/>
</g>
<use href="#czk" fill="none" stroke="#fff" stroke-opacity="0.6" stroke-width="2" stroke-linejoin="round" clip-path="url(#czck)"/>
<defs><path id="czn" d="M154.6,2188.7 151.7,2183.9 150.8,2179.7 149.9,2175.7 147.4,2174.1 143.2,2172.5 141.5,2169.2 139.3,2164.3 141.3,2161.8 144.6,2160.1 145.3,2156 146.9,2151.8 148.5,2148.5 150.9,2145.1 152.4,2141 151.6,2138.5 147.4,2137 145.3,2135.4 146.5,2132.9 146.9,2130.8 144,2129.6 141.5,2128 139,2126.4 135.6,2124 132.3,2121.6 129.8,2120 127.3,2118.4 125.2,2116.8 124.7,2114.4 122.2,2112.8 119.7,2110.3 119.2,2107.1 120,2103.7 118.7,2100.5 117.8,2097.2 114.4,2094 111.9,2091.5 108.9,2089.1 110.6,2087.5 113,2086.2 111.7,2084.1 112.1,2080.8 110.4,2079.2 113.3,2078.7 117.4,2078.7 119.1,2080.7 119.6,2084.8 123.3,2086.4 125.4,2088.8 124.2,2090.5 127.2,2093.7 128.1,2097.8 129,2100.7 131.4,2101 130.5,2096.9 130.9,2092.8 132.5,2090.3 133.2,2087 135.6,2083.6 137.7,2082.4 137.2,2079.5 140.5,2077.8 141.2,2075.3 143.7,2073.6 145.3,2071.1 147.7,2066.9 152.6,2065.6 157.5,2064.3 160,2065 162.4,2064.5 164.9,2065.3 166.5,2062.4 170.6,2059.9 173.8,2058.1 175.4,2056.5 178,2058.9 182.1,2061.3 186.7,2063.7 189.6,2061.9 192.8,2059.4 194.4,2056.1 193.9,2051.2 195.1,2049.1 199.2,2049.4 203.3,2047.7 204.9,2047.2 209.1,2048.8 211.5,2044.2 213,2039.2 215.4,2035.9 218.3,2037.1 221.1,2034.1 224.4,2031.2 225.6,2029.1 226.1,2026.8 229.3,2030.2 233.3,2033.9 237.9,2029.4 240.3,2023.8 240,2019.5 243.2,2017 248,2015.4 250,2013.7 252.4,2013.3 255.4,2014.9 257,2013.6 259.5,2014 261.5,2012.7 264,2013 266.9,2013.8 269.7,2011.7 271,2012.9 273,2011.6 272.9,2008.3 273.7,2005 277,2003.7 279,2001.6 282.3,2000.3 284.8,2001.5 287.2,2001.4 289.7,1999.3 292.1,1998.5 295.4,1996.3 298.6,1995 300.3,1994.6 303.5,1992.1 303.9,1989.6 307.1,1987.4 310,1988.6 314.1,1986.9 314.9,1986.1 318.2,1984.4 319,1981.9 315.6,1979.9 312.3,1979.1 310.6,1977.5 311.4,1974.6 307.3,1974.3 305.6,1973.9 306.4,1970.6 307.6,1968.9 307.1,1966.4 309.5,1963.5 312,1964.3 314.5,1966.3 317,1965.8 319.5,1967.8 322.8,1967 324.4,1965.7 327.3,1966.4 327.7,1964.8 328.7,1964.8 329,1966.8 331.1,1968.4 332.7,1970.5 334.8,1970 337.3,1972.8 337.8,1976.5 337.1,1979.8 335.1,1982.4 337.9,1982.7 342.4,1981.4 342.5,1984.7 341.4,1988.8 339.8,1993 341.9,1993.8 344.4,1994.9 347.3,1995.3 349,1997.7 352.2,1997.3 355.5,1997.6 356.7,1994.3 357.9,1991 361.2,1990.1 364.4,1989.2 367.7,1989.5 371.1,1990.3 374.3,1989.8 373.8,1985.7 374.2,1981.6 375.8,1977.8 375.3,1974.1 372.8,1972.9 371.1,1972.2 372.3,1969.7 374.7,1967.5 377.2,1967.5 379.2,1966.6 382.1,1967.8 385.5,1969.4 387.1,1970.2 388.7,1967.2 390.4,1968.1 390.9,1971.8 392.9,1972.1 396.2,1970.4 398.7,1973.6 401.3,1976.9 400.5,1980.2 400.2,1983.5 401.9,1987.6 405,1990.8 407.1,1992.4 408.8,1994.9 409.7,1999 409.4,2003.1 412.2,2001.8 414.3,1999.3 415.9,1998.8 418.4,2000.9 421.3,2001.6 423.8,2003.6 427.1,2003.2 430,2003.5 433.3,2005.1 436.2,2005.8 438.7,2008.3 441.6,2009 444.1,2008.1 447.4,2008.1 448.2,2006.4 450.2,2006.4 451.5,2008.8 452.8,2012.1 454.1,2014.5 455,2017.8 458.3,2017.4 461.6,2016.1 464.4,2015.6 466.6,2018 467.4,2021.7 468.7,2025 466.3,2027.5 469.2,2029.1 472.1,2027.8 472.9,2024.1 476.1,2020.3 479,2020.6 482.3,2022.2 484,2024.6 487.3,2023.8 488,2018.4 491.3,2018.3 493.4,2019.5 496.2,2018.6 499.6,2020.2 502.9,2025.1 506.3,2028.3 508.4,2031.2 505.6,2033.7 504.4,2037.4 504.1,2039.9 501.7,2043.2 499.2,2044.1 496.7,2043.8 494.7,2046.7 492.3,2047.6 490.3,2049.2 488.2,2050.9 486.6,2053.4 487.5,2056.7 490.4,2057.9 491.7,2060.8 493.8,2062.4 496.3,2061.9 501.2,2062.6 502.6,2067.5 505.1,2070.4 507.6,2070.7 509.7,2073.6 513.1,2078.4 515.6,2082.1 519.5,2087.4 520.8,2093.1 522.5,2097.2 525.9,2099.6 529.2,2102.8 533.4,2103.6 535.8,2101.1 537.4,2098.6 541.4,2093.5 545.5,2090.1 548.7,2087.6 550.3,2085.1 554.4,2083.4 557.7,2081.2 560.2,2083.3 561,2084.9 562.2,2083.2 560.9,2079.9 561.3,2076.6 559.1,2073.4 555.8,2071.8 554.1,2068.6 552.4,2064.5 550.6,2060.4 548.1,2057.6 546.8,2055.9 548,2052.6 550.9,2050.9 553.8,2052.5 557.1,2054.5 559.6,2053.6 562.9,2055.2 563.5,2055.2 567.3,2057.2 569.8,2057.1 571.9,2059.5 574.4,2060.3 576.8,2059.4 578.9,2060.6 578.5,2062.7 580.2,2064.7 583.6,2067.5 587.7,2069.1 591.8,2068.2 592.3,2071.1 591.6,2074.4 592.9,2077.7 593.6,2075.6 596.9,2075.5 599,2076.3 599.5,2079.6 601.9,2077.1 605.2,2076.2 608.5,2076.5 611.8,2075.6 614.2,2074.8 616.7,2076.8 620,2074.2 622.4,2072.1 623.6,2070.9 623.1,2068 625.6,2068.7 626.9,2071.2 629,2072 627.4,2075.3 627.1,2078.2 630,2081.4 629.7,2086 626.8,2086.4 625.2,2089.4 621.9,2090.7 617.9,2092 615.4,2093.7 616.7,2097 619.2,2098.5 620.9,2101 623.4,2100.1 626.3,2101.7 628.4,2104.5 630.1,2107.4 631,2110.7 633.1,2113.1 636.5,2115.5 638.2,2118.8 640.7,2120.8 643.2,2119.9 646.4,2118.6 648,2116.1 651.3,2115.2 653.7,2113.5 656.7,2115.5 656.6,2111.8 653.7,2111 653.2,2109 655.3,2107.3 657.8,2108.5 660.7,2110.9 662,2114.2 664.5,2116.6 667.8,2118.2 669.9,2117.3 671.9,2118.1 672.8,2120.5 676.1,2121.3 678.6,2122.9 679.9,2126.1 682,2127.8 683.6,2124.4 686.9,2125.6 690.3,2125.9 692.7,2126.7 695.2,2128.3 698.6,2129.9 701.9,2130.6 702.6,2127.3 705.1,2127.7 706,2130.6 705.2,2133.9 708.6,2137.1 707,2140.4 707.9,2144.5 709.6,2148.6 711,2153.5 712.3,2158.4 715.7,2160 719,2160.8 720.7,2163.6 725,2164 727.5,2164.7 728.8,2170.3 731.5,2177 731.2,2181.2 733.3,2184.4 732.6,2188.5 728.4,2189.4 725.2,2192.4 721.9,2192.9 716.9,2190.9 713.7,2191.8 710.4,2192.3 707.9,2191.1 703.8,2194.1 704.7,2197.3 700.7,2202.4 698.3,2205.7 692.6,2208.3 693.1,2212.4 691.1,2216.6 682.9,2221.3 677.2,2223.4 672.3,2225.2 672,2228.5 669.1,2231 668.8,2236 667.7,2240.1 668.6,2243.4 666.2,2247.6 666.7,2250.8 665.9,2255.8 664,2260 660.7,2263.3 656.6,2265.5 652.5,2265.1 648.8,2266 648.1,2269.4 647.3,2273.5 645.8,2276.8 645.4,2280.5 640.5,2281 636.4,2281.1 633.2,2284.5 632,2287.8 628.3,2290.4 623.4,2291.7 620.1,2294.2 616.9,2296.4 612.8,2298.1 612,2296.5 608.7,2295.7 605.7,2294.1 601.3,2297.9 598,2298.4 594.6,2295.6 592.4,2293.6 588.3,2291.6 583.3,2289.6 580.1,2293 576,2296.4 574.5,2300.5 572,2303 569.6,2306.4 568.1,2310.5 565.7,2314.7 563.3,2318.9 562.1,2323 561.8,2327.1 559.4,2329.3 557.7,2327.2 557.6,2323.1 556.7,2319 555.8,2314.9 553.3,2314.1 550,2315 546.8,2315.5 543.4,2314.3 540.9,2312.3 538.4,2311.1 536,2312 534.7,2309.6 534.2,2306.3 531.7,2304.7 528.4,2304.3 525.9,2302.8 523.4,2301.1 521.7,2300.8 520.1,2302 515.6,2301.3 514.4,2304.2 513.6,2307.5 511.2,2310 509.6,2312.5 506.3,2313 504.2,2311.4 502.2,2312.7 498.9,2312 493.9,2311.6 487.3,2310.9 482.4,2311.1 477.4,2309.1 472.4,2305.9 469,2302.7 467.7,2300.2 464.8,2298.6 462.3,2296.2 459,2294.6 457.7,2292.2 452.4,2293.1 449.9,2295.2 445,2294.9 442.5,2293.3 439.1,2290.9 435.8,2288.9 433.1,2288.6 430.6,2287 427.3,2285.4 424.8,2282.1 421.5,2281.4 418.1,2279.4 414.8,2277.4 411.5,2277 408.2,2278.3 406.5,2275.5 405,2280.1 401.7,2280.9 398.4,2281.9 395.1,2282.7 394.3,2280.3 395,2277 393.3,2274.9 390,2274.6 386.7,2274.3 385.8,2272.6 382.5,2271.9 380.1,2273.2 378.9,2276.5 379.5,2282.2 380,2287.2 379.6,2291.3 378.9,2294.6 379.4,2298.7 377.8,2301.2 377.4,2304.5 379.1,2307.8 377.1,2310.7 375.1,2310.3 372.6,2308.7 370.9,2308 368.4,2308.4 366,2308.1 363.5,2308.9 363.6,2312.2 362.9,2316.3 359.6,2318.9 357.2,2320.6 356,2323.5 355.2,2327.2 356.1,2330.5 355.8,2334.6 355,2337.9 350.9,2338.8 349.6,2335.6 347.6,2334.8 345.9,2331.9 343.4,2333.7 341,2334.9 338.5,2333.8 335.2,2333.4 333.5,2331 332.6,2329.3 331,2330.2 331.4,2333.1 330.3,2336.4 327,2337.7 325.4,2339.8 322.9,2340.6 320.5,2343.6 317.2,2341.2 313.9,2340 310.6,2338.8 306.4,2337.7 302.3,2337.4 299,2337.8 295.7,2336.7 293.6,2334.2 291.5,2331.8 292.6,2328.9 294.7,2327.2 293.8,2325.6 291.3,2323.6 289.6,2321.1 286.3,2319.6 284.2,2318.8 282.1,2315.5 281.6,2313.9 279.5,2313.1 277,2311.5 275.4,2310.9 272.1,2309.3 269.5,2306.1 267.8,2302 265.2,2297.9 263.5,2293.8 260.2,2292.2 256.8,2289 254.3,2285.8 251,2285 249.3,2282.6 246.4,2281.8 244.3,2281.8 243.1,2286 239.4,2283.6 236.1,2281.2 233.9,2278.8 233.4,2273.8 231.7,2269.7 228.3,2266.5 224.9,2262.5 222.4,2260 219.1,2260.1 215.8,2258.5 212.5,2256.1 211.6,2252.8 208.2,2249.6 204.8,2245.6 202.3,2241.5 199.7,2238.3 198.4,2235.8 198.8,2230.9 194.6,2229.3 190.4,2226.1 185.5,2225.4 184.7,2227.4 181.4,2226.7 175.6,2225.6 173.9,2222.3 172.1,2218.2 168.8,2215 164.6,2213.4 162.9,2209.3 161.1,2204.4 161.9,2199.5 157.7,2197.1 156,2193.8 155.9,2189.7Z"/><clipPath id="czcn"><use href="#czn"/></clipPath></defs>
<use href="#czn" fill="#f5b0b5" filter="url(#sh)"/>
<g clip-path="url(#czcn)">
<path d="M341.5,1997.5 328.1,2003.2 322.4,2014.7 316.6,2026.2 320.5,2037.7 326.2,2051.1 320.5,2058.7 309,2068.3 297.5,2074.1 284.1,2076 274.5,2083.6 259.2,2091.3 247.7,2099 236.2,2108.5 228.5,2116.2 220.9,2112.4 213.2,2120 201.7,2123.9 192.1,2127.7 182.6,2131.5 171.1,2135.3 161.5,2139.2 150,2141.1 128.9,2148.7 94.5,2093.2 102.1,2062.6 213.2,2012.8 305.1,1959.2 354.9,1978.3Z" fill="#aed4fb" stroke="#fff" stroke-opacity="0.75" stroke-width="1.3" stroke-linejoin="round"/>
<path d="M544.5,2093.2 540.7,2108.5 534.9,2123.9 536.9,2139.2 540.7,2154.5 544.5,2169.8 542.6,2185.1 536.9,2190.9 544.5,2204.3 542.6,2211.9 552.2,2213.9 554.1,2202.4 561.8,2208.1 569.4,2219.6 575.2,2234.9 579,2246.4 577.1,2257.9 584.7,2265.6 596.2,2273.2 607.7,2280.9 619.2,2286.6 625,2292.4 634.5,2303.9 680.5,2254.1 718.8,2215.8 757.1,2185.1 738,2127.7 672.8,2093.2 626.9,2058.7 546.4,2043.4 534.9,2085.5Z" fill="#aed4fb" stroke="#fff" stroke-opacity="0.75" stroke-width="1.3" stroke-linejoin="round"/>
<path d="M368.3,2033.8 376,2037.7 383.7,2045.3 387.5,2054.9 385.6,2066.4 393.2,2077.9 406.6,2083.6 410.5,2093.2 408.6,2108.5 412.4,2120 418.1,2127.7 422,2135.3 422,2146.8 412.4,2156.4 400.9,2162.2 393.2,2169.8 391.3,2179.4 397.1,2181.3 391.3,2187 377.9,2189 366.4,2194.7 358.8,2190.9 353,2187 345.4,2196.6 335.8,2200.5 324.3,2196.6 312.8,2198.5 301.3,2194.7 289.8,2198.5 278.3,2200.5 268.7,2202.4 261.1,2196.6 259.2,2185.1 255.3,2175.6 257.3,2169.8 264.9,2166 266.8,2158.3 264.9,2143 259.2,2137.3 247.7,2129.6 236.2,2121.9 228.5,2116.2 236.2,2108.5 247.7,2099 259.2,2091.3 274.5,2083.6 284.1,2076 297.5,2074.1 309,2068.3 320.5,2058.7 328.1,2051.1 339.6,2053 351.1,2047.2 356.8,2039.6 362.6,2035.8Z" fill="#f2434b" stroke="#fff" stroke-opacity="0.75" stroke-width="1.3" stroke-linejoin="round"/>
<path d="M305.1,2112.4 316.6,2106.6 328.1,2100.9 335.8,2104.7 345.4,2108.5 347.3,2116.2 343.4,2125.8 331.9,2129.6 324.3,2133.4 316.6,2135.3 310.9,2127.7 309,2120Z" fill="#f5b0b5" stroke="#fff" stroke-opacity="0.75" stroke-width="1.3" stroke-linejoin="round"/>
<path d="M422,2146.8 431.5,2154.5 443,2160.2 454.5,2166 464.1,2171.7 473.7,2169.8 485.2,2175.6 496.6,2181.3 504.3,2189 512,2185.1 519.6,2181.3 531.1,2179.4 542.6,2181.3" fill="none" stroke="#fff" stroke-opacity="0.75" stroke-width="1.3" stroke-linejoin="round"/>
<path d="M366.4,2194.7 366.4,2208.1 364.5,2219.6 370.2,2229.2 377.9,2236.8 389.4,2242.6 397.1,2246.4 404.7,2248.3 410.5,2256 420,2257.9 429.6,2259.8 431.5,2267.5 425.8,2273.2 429.6,2282.8 427.7,2290.5" fill="none" stroke="#fff" stroke-opacity="0.75" stroke-width="1.3" stroke-linejoin="round"/>
<path d="M594.3,2081.7 584.7,2091.3 577.1,2100.9 573.3,2116.2 573.3,2131.5 579,2143 592.4,2148.7 603.9,2154.5 617.3,2160.2 625,2169.8 638.4,2179.4 646,2187 661.3,2190.9 672.8,2192.8 682.4,2200.5 690.1,2208.1" fill="none" stroke="#fff" stroke-opacity="0.75" stroke-width="1.3" stroke-linejoin="round"/>
</g>
<use href="#czn" fill="none" stroke="#fff" stroke-opacity="0.6" stroke-width="2" stroke-linejoin="round" clip-path="url(#czcn)"/>
<rect x="1250.00" y="2228" width="208.25" height="73.80000000000018" fill="#1c67b3"/><rect x="1457.75" y="2228" width="208.25" height="73.80000000000018" fill="#409ef9"/><rect x="1665.50" y="2228" width="208.25" height="73.80000000000018" fill="#aed4fb"/><rect x="1873.25" y="2228" width="208.25" height="73.80000000000018" fill="#f5b0b5"/><rect x="2081.00" y="2228" width="208.25" height="73.80000000000018" fill="#f2434b"/><rect x="2288.75" y="2228" width="208.25" height="73.80000000000018" fill="#aa1e24"/>
<g font-family="Liberation Sans, sans-serif" opacity="0.999"><text x="62" y="134.6" font-size="85" font-weight="bold" fill="#171a1e" textLength="1058" lengthAdjust="spacingAndGlyphs" stroke="#171a1e" stroke-width="0.8">Regionální cenové hladiny</text><text x="240" y="228.8" font-size="71" font-weight="normal" fill="#171a1e" textLength="698" lengthAdjust="spacingAndGlyphs" stroke="#171a1e" stroke-width="1.06">Česká republika, 2011–2013</text><text x="156" y="326.4" font-size="71" font-weight="normal" fill="#171a1e" textLength="868" lengthAdjust="spacingAndGlyphs" stroke="#171a1e" stroke-width="1.06">Index regionální cenové hladiny RCI</text><text x="211" y="397" font-size="53" font-weight="normal" fill="#171a1e" textLength="758" lengthAdjust="spacingAndGlyphs" stroke="#171a1e" stroke-width="0.79">(COI01: Potraviny a nealkoholické nápoje)</text><text x="313" y="682.3" font-size="56" font-weight="bold" fill="#171a1e" textLength="178" lengthAdjust="spacingAndGlyphs" stroke="#171a1e" stroke-width="1.2">okresy</text><text x="367" y="731" font-size="37" font-weight="normal" fill="#171a1e" textLength="67.8" lengthAdjust="spacingAndGlyphs" stroke="#171a1e" stroke-width="0.55">LAU 1</text><text x="1623" y="211" font-size="56" font-weight="bold" fill="#171a1e" textLength="133" lengthAdjust="spacingAndGlyphs" stroke="#171a1e" stroke-width="1.2">kraje</text><text x="1646" y="257" font-size="37" font-weight="normal" fill="#171a1e" textLength="87" lengthAdjust="spacingAndGlyphs" stroke="#171a1e" stroke-width="0.55">NUTS 3</text><text x="91" y="1860.3" font-size="56" font-weight="bold" fill="#171a1e" textLength="205" lengthAdjust="spacingAndGlyphs" stroke="#171a1e" stroke-width="1.2">regiony</text><text x="35" y="1932.3" font-size="56" font-weight="bold" fill="#171a1e" textLength="315" lengthAdjust="spacingAndGlyphs" stroke="#171a1e" stroke-width="1.2">soudržnosti</text><text x="150" y="1980" font-size="37" font-weight="normal" fill="#171a1e" textLength="87" lengthAdjust="spacingAndGlyphs" stroke="#171a1e" stroke-width="0.55">NUTS 2</text><text x="1460" y="2211" font-size="40" font-weight="bold" fill="#171a1e" textLength="825" lengthAdjust="spacingAndGlyphs" >Hodnota indexu regionální cenové hladiny RCI</text><text x="1412.5" y="2342" font-size="36" font-weight="normal" fill="#171a1e" textLength="71" lengthAdjust="spacingAndGlyphs" stroke="#171a1e" stroke-width="0.54">0,960</text><text x="1620.5" y="2342" font-size="36" font-weight="normal" fill="#171a1e" textLength="71" lengthAdjust="spacingAndGlyphs" stroke="#171a1e" stroke-width="0.54">0,980</text><text x="1834.5" y="2342" font-size="36" font-weight="normal" fill="#171a1e" textLength="71" lengthAdjust="spacingAndGlyphs" stroke="#171a1e" stroke-width="0.54">1,000</text><text x="2042.0" y="2342" font-size="36" font-weight="normal" fill="#171a1e" textLength="71" lengthAdjust="spacingAndGlyphs" stroke="#171a1e" stroke-width="0.54">1,020</text><text x="2242.5" y="2342" font-size="36" font-weight="normal" fill="#171a1e" textLength="71" lengthAdjust="spacingAndGlyphs" stroke="#171a1e" stroke-width="0.54">1,040</text><text x="1248" y="2494" font-size="29.5" font-weight="normal" fill="#171a1e" textLength="102" lengthAdjust="spacingAndGlyphs" stroke="#171a1e" stroke-width="0.44">TD020047:</text><text x="1248" y="2529.7" font-size="29.5" font-weight="normal" fill="#171a1e" textLength="70" lengthAdjust="spacingAndGlyphs" stroke="#171a1e" stroke-width="0.44">Řešitel:</text><text x="1357" y="2493.5" font-size="29.5" font-weight="bold" fill="#171a1e" textLength="1114" lengthAdjust="spacingAndGlyphs" >Regionální cenový index jako indikátor reálných sociálních a ekonomických disparit</text><text x="1357" y="2529.7" font-size="29.5" font-weight="bold" fill="#171a1e" textLength="672.5" lengthAdjust="spacingAndGlyphs" >Technická univerzita v Liberci, Ekonomická fakulta</text></g></svg></body></html>
